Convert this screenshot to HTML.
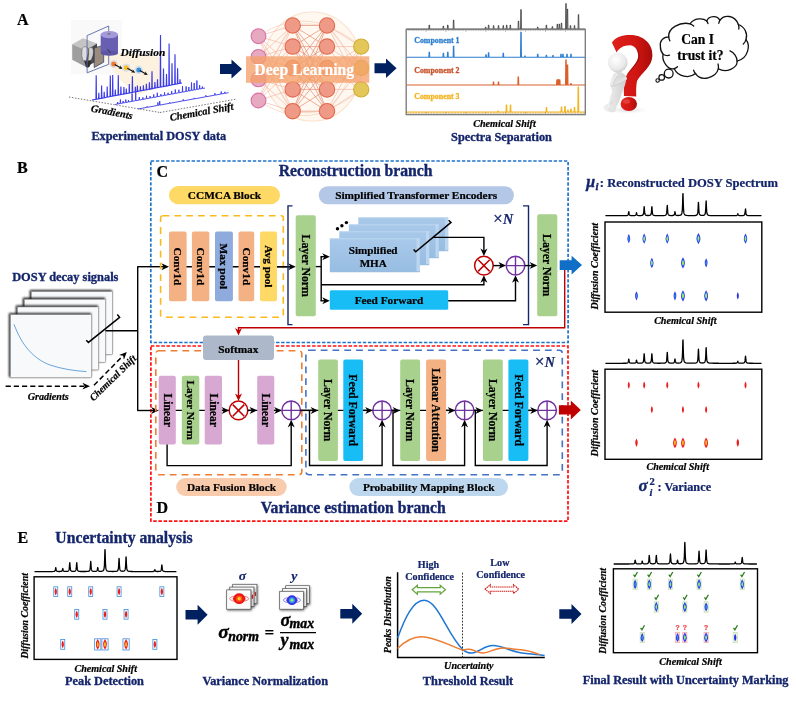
<!DOCTYPE html>
<html><head><meta charset="utf-8"><title>DOSY uncertainty framework</title>
<style>
html,body{margin:0;padding:0;background:#fff;}
body{width:796px;height:703px;overflow:hidden;}
svg{display:block;font-family:"Liberation Serif","DejaVu Serif",serif;}
</style></head><body>
<svg width="796" height="703" viewBox="0 0 796 703">
<rect width="796" height="703" fill="#fff"/>
<text x="17" y="25" font-size="16" fill="#000" font-weight="bold" font-style="normal" text-anchor="start" stroke="#000" stroke-width="0.22" >A</text>
<g>
<rect x="71.00" y="20.00" width="50.80" height="54.30" rx="0" fill="#f9f9f9" stroke="none" stroke-width="1" />
<polygon points="104,56 112,52 160.5,57 160.5,87 137,95 120,80" fill="#fdf2df"/>
<path d="M87.1,35.6 L108.7,26 L108.7,33" fill="none" stroke="#5a68a8" stroke-width="0.9"/>
<polygon points="72.2,44.2 83,38.2 97,43.5 86,50.2" fill="#c4c4c4"/>
<polygon points="72.2,44.2 86,50.2 86,67 72.2,59.7" fill="#9e9e9e"/>
<polygon points="86,50.2 97,43.5 97,61 86,67" fill="#4a4a4a"/>
<path d="M82,49.5 q1,-4 4.5,-2.5 q2,1.5 1.5,6 l-1.5,7 q-1.5,2 -3.5,0.5 q-2,-4 -1,-11z" fill="#dedede" stroke="#555" stroke-width="0.5"/>
<path d="M88.5,48.5 q2.5,-2.5 4.5,0 q1,3 0,7 l-2,5 q-2,1 -3,-1 q1,-5 0.5,-11z" fill="#cfcfcf" stroke="#444" stroke-width="0.5"/>
<path d="M84,60 q3,3 7,0 l-1,6 q-2,3 -4,1z" fill="#2a2a2a"/>
<polygon points="94.2,48 103.7,45.2 103.7,62.2 94.2,67.5" fill="#9b8b7c"/>
<polygon points="94.2,48 103.7,45.2 103.7,62.2 94.2,67.5" fill="none" stroke="#2a3560" stroke-width="0.7"/>
<path d="M87.1,35.6 L87.1,72.8 L108.7,64.3 L108.7,54.5" fill="none" stroke="#5a68a8" stroke-width="0.9"/>
<rect x="100.7" y="34.6" width="17.3" height="18.6" fill="#695fb2"/>
<ellipse cx="109.35" cy="53.2" rx="8.65" ry="2.6" fill="#5f55a6"/>
<ellipse cx="109.35" cy="34.6" rx="8.65" ry="3.6" fill="#a399db"/>
<ellipse cx="109" cy="33.8" rx="1.6" ry="0.9" fill="#777"/>
<path d="M107.5,49 l3,4" stroke="#333" stroke-width="0.9"/>
</g>
<polyline points="69.00,97.00 160.00,112.50" fill="none" stroke="#555" stroke-width="0.8" stroke-dasharray="1.5 1.5" />
<polyline points="160.00,112.50 235.50,99.30" fill="none" stroke="#555" stroke-width="0.8" stroke-dasharray="1.5 1.5" />
<path d="M92.00,100.00L95.95,99.21L96.20,75.31L96.45,99.21L98.55,98.72L98.80,92.72L99.05,98.72L101.35,98.19L101.60,85.39L101.85,98.19L103.95,97.70L104.20,91.70L104.45,97.70L106.95,97.13L107.20,86.43L107.45,97.13L110.05,96.54L110.30,75.54L110.55,96.54L112.45,96.09L112.70,75.09L112.95,96.09L115.05,95.60L115.30,89.60L115.55,95.60L118.05,95.03L118.30,75.33L118.55,95.03L120.65,94.54L120.90,86.54L121.15,94.54L123.65,93.97L123.90,86.97L124.15,93.97L126.05,93.52L126.30,88.52L126.55,93.52L129.05,92.95L129.30,83.95L129.55,92.95L132.15,92.37L132.40,76.37L132.65,92.37L135.15,91.80L135.40,86.80L135.65,91.80L137.15,91.42L137.40,85.42L137.65,91.42L140.15,90.86L140.40,86.36L140.65,90.86L143.15,90.29L143.40,85.29L143.65,90.29L146.15,89.72L146.40,83.72L146.65,89.72L149.15,89.16L149.40,82.16L149.65,89.16L151.75,88.67L152.00,71.27L152.25,88.67L154.65,88.12L154.90,82.12L155.15,88.12L157.25,87.63L157.50,79.33L157.75,87.63L160.25,87.06L160.50,35.06L160.75,87.06L163.25,86.49L163.50,68.49L163.75,86.49L166.25,85.93L166.50,73.93L166.75,85.93L168.85,85.44L169.10,43.44L169.35,85.44L171.75,84.89L172.00,63.29L172.25,84.89L174.75,84.32L175.00,54.32L175.25,84.32L177.35,83.83L177.60,68.33L177.85,83.83L179.75,83.38L180.00,79.38L180.25,83.38L182.00,83.00" fill="none" stroke="#3b3be8" stroke-width="1.15" stroke-linejoin="miter"/>
<path d="M115.00,104.50L117.45,104.00L117.70,102.00L117.95,104.00L120.15,103.51L120.40,99.51L120.65,103.51L122.85,103.02L123.10,101.02L123.35,103.02L125.55,102.52L125.80,99.52L126.05,102.52L128.25,102.03L128.50,100.03L128.75,102.03L131.85,101.36L132.10,93.36L132.35,101.36L135.45,100.70L135.70,91.70L135.95,100.70L139.05,100.05L139.30,97.05L139.55,100.05L142.65,99.39L142.90,97.39L143.15,99.39L146.25,98.72L146.50,95.72L146.75,98.72L149.85,98.06L150.10,96.06L150.35,98.06L153.45,97.41L153.70,94.41L153.95,97.41L157.05,96.75L157.30,92.75L157.55,96.75L160.65,96.08L160.90,94.08L161.15,96.08L164.25,95.42L164.50,92.42L164.75,95.42L167.85,94.77L168.10,92.77L168.35,94.77L171.45,94.11L171.70,91.11L171.95,94.11L175.05,93.44L175.30,89.44L175.55,93.44L178.65,92.78L178.90,89.78L179.15,92.78L182.25,92.12L182.50,86.12L182.75,92.12L185.85,91.47L186.10,86.47L186.35,91.47L188.55,90.97L188.80,86.97L189.05,90.97L191.25,90.47L191.50,82.47L191.75,90.47L193.95,89.98L194.20,82.98L194.45,89.98L196.65,89.48L196.90,80.48L197.15,89.48L199.35,88.99L199.60,84.99L199.85,88.99L202.05,88.50L202.30,86.50L202.55,88.50L205.00,88.00" fill="none" stroke="#3b3be8" stroke-width="0.9" stroke-linejoin="miter"/>
<path d="M138.00,109.00L146.80,107.37L147.05,106.37L147.30,107.37L157.66,105.41L157.91,102.41L158.16,105.41L159.47,105.09L159.72,101.09L159.97,105.09L169.43,103.30L169.68,102.30L169.93,103.30L183.00,100.85L183.25,99.35L183.50,100.85L193.86,98.89L194.11,97.89L194.36,98.89L205.62,96.78L205.88,95.28L206.12,96.78L214.68,95.15L214.93,93.15L215.18,95.15L221.01,94.00L221.26,91.50L221.51,94.00L224.63,93.35L224.88,91.85L225.13,93.35L228.50,92.70" fill="none" stroke="#3b3be8" stroke-width="0.9" stroke-linejoin="miter"/>
<circle cx="113.7" cy="63.9" r="3.7" fill="#e4e6f4" stroke="#c9cbe6" stroke-width="0.5"/>
<circle cx="113.7" cy="63.9" r="2.5" fill="#f07a28"/>
<polyline points="114.70,64.40 120.96,67.92" fill="none" stroke="#111" stroke-width="1.1" />
<polygon points="122.70,68.90 118.33,68.51 120.26,67.53 120.10,65.37" fill="#111"/>
<circle cx="126.3" cy="67.7" r="3.7" fill="#e4e6f4" stroke="#c9cbe6" stroke-width="0.5"/>
<circle cx="126.3" cy="67.7" r="2.5" fill="#f5c022"/>
<polyline points="127.30,68.20 133.56,71.72" fill="none" stroke="#111" stroke-width="1.1" />
<polygon points="135.30,72.70 130.93,72.31 132.86,71.33 132.70,69.17" fill="#111"/>
<circle cx="138.8" cy="69.9" r="3.7" fill="#e4e6f4" stroke="#c9cbe6" stroke-width="0.5"/>
<circle cx="138.8" cy="69.9" r="2.5" fill="#2f8fd8"/>
<polyline points="139.80,70.40 146.06,73.92" fill="none" stroke="#111" stroke-width="1.1" />
<polygon points="147.80,74.90 143.43,74.51 145.36,73.53 145.20,71.37" fill="#111"/>
<text x="120.5" y="55.8" font-size="11.4" fill="#000" font-weight="bold" font-style="italic" text-anchor="start" stroke="#000" stroke-width="0.22" >Diffusion</text>
<text x="90.5" y="111.5" font-size="10.4" fill="#000" font-weight="bold" font-style="italic" text-anchor="start" stroke="#000" stroke-width="0.22" transform="rotate(10.5 90.5 111.5)" >Gradients</text>
<text x="170.5" y="121" font-size="10.4" fill="#000" font-weight="bold" font-style="italic" text-anchor="start" stroke="#000" stroke-width="0.22" transform="rotate(-10.3 170.5 121)" >Chemical Shift</text>
<text x="158.8" y="139.8" font-size="12.3" fill="#14256b" font-weight="bold" font-style="normal" text-anchor="middle" stroke="#14256b" stroke-width="0.32" >Experimental DOSY data</text>
<polygon points="220.00,64.00 231.50,64.00 231.50,59.50 242.00,69.00 231.50,78.50 231.50,74.00 220.00,74.00" fill="#002060"/>
<ellipse cx="312.3" cy="66.5" rx="49.5" ry="54.5" fill="#fef8f1" stroke="#fbe3cf" stroke-width="1.2"/>
<g stroke-width="0.7" opacity="0.75">
<line x1="258.5" y1="36.2" x2="292.7" y2="25.5" stroke="#f0a58f"/>
<line x1="258.5" y1="36.2" x2="292.7" y2="46.6" stroke="#f0a58f"/>
<line x1="258.5" y1="36.2" x2="292.7" y2="68" stroke="#f0a58f"/>
<line x1="258.5" y1="36.2" x2="292.7" y2="89.4" stroke="#f0a58f"/>
<line x1="258.5" y1="36.2" x2="292.7" y2="111.2" stroke="#f0a58f"/>
<line x1="258.5" y1="56.9" x2="292.7" y2="25.5" stroke="#f0a58f"/>
<line x1="258.5" y1="56.9" x2="292.7" y2="46.6" stroke="#f0a58f"/>
<line x1="258.5" y1="56.9" x2="292.7" y2="68" stroke="#f0a58f"/>
<line x1="258.5" y1="56.9" x2="292.7" y2="89.4" stroke="#f0a58f"/>
<line x1="258.5" y1="56.9" x2="292.7" y2="111.2" stroke="#f0a58f"/>
<line x1="258.5" y1="79.4" x2="292.7" y2="25.5" stroke="#f0a58f"/>
<line x1="258.5" y1="79.4" x2="292.7" y2="46.6" stroke="#f0a58f"/>
<line x1="258.5" y1="79.4" x2="292.7" y2="68" stroke="#f0a58f"/>
<line x1="258.5" y1="79.4" x2="292.7" y2="89.4" stroke="#f0a58f"/>
<line x1="258.5" y1="79.4" x2="292.7" y2="111.2" stroke="#f0a58f"/>
<line x1="258.5" y1="100.5" x2="292.7" y2="25.5" stroke="#f0a58f"/>
<line x1="258.5" y1="100.5" x2="292.7" y2="46.6" stroke="#f0a58f"/>
<line x1="258.5" y1="100.5" x2="292.7" y2="68" stroke="#f0a58f"/>
<line x1="258.5" y1="100.5" x2="292.7" y2="89.4" stroke="#f0a58f"/>
<line x1="258.5" y1="100.5" x2="292.7" y2="111.2" stroke="#f0a58f"/>
<line x1="292.7" y1="25.5" x2="327" y2="25.5" stroke="#d96a4a"/>
<line x1="292.7" y1="25.5" x2="327" y2="46.6" stroke="#d96a4a"/>
<line x1="292.7" y1="25.5" x2="327" y2="68" stroke="#d96a4a"/>
<line x1="292.7" y1="25.5" x2="327" y2="89.4" stroke="#d96a4a"/>
<line x1="292.7" y1="25.5" x2="327" y2="111.2" stroke="#d96a4a"/>
<line x1="292.7" y1="46.6" x2="327" y2="25.5" stroke="#d96a4a"/>
<line x1="292.7" y1="46.6" x2="327" y2="46.6" stroke="#d96a4a"/>
<line x1="292.7" y1="46.6" x2="327" y2="68" stroke="#d96a4a"/>
<line x1="292.7" y1="46.6" x2="327" y2="89.4" stroke="#d96a4a"/>
<line x1="292.7" y1="46.6" x2="327" y2="111.2" stroke="#d96a4a"/>
<line x1="292.7" y1="68" x2="327" y2="25.5" stroke="#d96a4a"/>
<line x1="292.7" y1="68" x2="327" y2="46.6" stroke="#d96a4a"/>
<line x1="292.7" y1="68" x2="327" y2="68" stroke="#d96a4a"/>
<line x1="292.7" y1="68" x2="327" y2="89.4" stroke="#d96a4a"/>
<line x1="292.7" y1="68" x2="327" y2="111.2" stroke="#d96a4a"/>
<line x1="292.7" y1="89.4" x2="327" y2="25.5" stroke="#d96a4a"/>
<line x1="292.7" y1="89.4" x2="327" y2="46.6" stroke="#d96a4a"/>
<line x1="292.7" y1="89.4" x2="327" y2="68" stroke="#d96a4a"/>
<line x1="292.7" y1="89.4" x2="327" y2="89.4" stroke="#d96a4a"/>
<line x1="292.7" y1="89.4" x2="327" y2="111.2" stroke="#d96a4a"/>
<line x1="292.7" y1="111.2" x2="327" y2="25.5" stroke="#d96a4a"/>
<line x1="292.7" y1="111.2" x2="327" y2="46.6" stroke="#d96a4a"/>
<line x1="292.7" y1="111.2" x2="327" y2="68" stroke="#d96a4a"/>
<line x1="292.7" y1="111.2" x2="327" y2="89.4" stroke="#d96a4a"/>
<line x1="292.7" y1="111.2" x2="327" y2="111.2" stroke="#d96a4a"/>
<line x1="327" y1="25.5" x2="361.2" y2="46.6" stroke="#f0a58f"/>
<line x1="327" y1="25.5" x2="361.2" y2="68" stroke="#f0a58f"/>
<line x1="327" y1="25.5" x2="361.2" y2="89.4" stroke="#f0a58f"/>
<line x1="327" y1="46.6" x2="361.2" y2="46.6" stroke="#f0a58f"/>
<line x1="327" y1="46.6" x2="361.2" y2="68" stroke="#f0a58f"/>
<line x1="327" y1="46.6" x2="361.2" y2="89.4" stroke="#f0a58f"/>
<line x1="327" y1="68" x2="361.2" y2="46.6" stroke="#f0a58f"/>
<line x1="327" y1="68" x2="361.2" y2="68" stroke="#f0a58f"/>
<line x1="327" y1="68" x2="361.2" y2="89.4" stroke="#f0a58f"/>
<line x1="327" y1="89.4" x2="361.2" y2="46.6" stroke="#f0a58f"/>
<line x1="327" y1="89.4" x2="361.2" y2="68" stroke="#f0a58f"/>
<line x1="327" y1="89.4" x2="361.2" y2="89.4" stroke="#f0a58f"/>
<line x1="327" y1="111.2" x2="361.2" y2="46.6" stroke="#f0a58f"/>
<line x1="327" y1="111.2" x2="361.2" y2="68" stroke="#f0a58f"/>
<line x1="327" y1="111.2" x2="361.2" y2="89.4" stroke="#f0a58f"/>
</g>
<g fill="none" stroke="#f5c4a8" stroke-width="0.7" opacity="0.8">
<path d="M258.5,36.2Q292.75,12.850000000000001 327,25.5"/>
<path d="M258.5,100.5Q292.75,123.85 327,111.2"/>
<path d="M292.7,25.5Q326.95,18.049999999999997 361.2,46.6"/>
<path d="M292.7,111.2Q326.95,118.30000000000001 361.2,89.4"/>
<path d="M258.5,36.2Q275.6,91.7 292.7,111.2"/>
<path d="M258.5,100.5Q275.6,45.0 292.7,25.5"/>
<path d="M327,25.5Q344.1,39.45 361.2,89.4"/>
<path d="M327,111.2Q344.1,96.9 361.2,46.6"/>
</g>
<circle cx="258.5" cy="36.2" r="7.4" fill="#e6a9c0" stroke="#d872a8" stroke-width="1.1"/>
<circle cx="258.5" cy="56.9" r="7.4" fill="#e6a9c0" stroke="#d872a8" stroke-width="1.1"/>
<circle cx="258.5" cy="79.4" r="7.4" fill="#e6a9c0" stroke="#d872a8" stroke-width="1.1"/>
<circle cx="258.5" cy="100.5" r="7.4" fill="#e6a9c0" stroke="#d872a8" stroke-width="1.1"/>
<circle cx="292.7" cy="25.5" r="7.7" fill="#ee9a86" stroke="#e2694f" stroke-width="1.1"/>
<circle cx="292.7" cy="46.6" r="7.7" fill="#ee9a86" stroke="#e2694f" stroke-width="1.1"/>
<circle cx="292.7" cy="68" r="7.7" fill="#ee9a86" stroke="#e2694f" stroke-width="1.1"/>
<circle cx="292.7" cy="89.4" r="7.7" fill="#ee9a86" stroke="#e2694f" stroke-width="1.1"/>
<circle cx="292.7" cy="111.2" r="7.7" fill="#ee9a86" stroke="#e2694f" stroke-width="1.1"/>
<circle cx="327" cy="25.5" r="7.7" fill="#ee9a86" stroke="#e2694f" stroke-width="1.1"/>
<circle cx="327" cy="46.6" r="7.7" fill="#ee9a86" stroke="#e2694f" stroke-width="1.1"/>
<circle cx="327" cy="68" r="7.7" fill="#ee9a86" stroke="#e2694f" stroke-width="1.1"/>
<circle cx="327" cy="89.4" r="7.7" fill="#ee9a86" stroke="#e2694f" stroke-width="1.1"/>
<circle cx="327" cy="111.2" r="7.7" fill="#ee9a86" stroke="#e2694f" stroke-width="1.1"/>
<circle cx="361.2" cy="46.6" r="7.6" fill="#e3c75a" stroke="#d3ad33" stroke-width="1.1"/>
<circle cx="361.2" cy="68" r="7.6" fill="#e3c75a" stroke="#d3ad33" stroke-width="1.1"/>
<circle cx="361.2" cy="89.4" r="7.6" fill="#e3c75a" stroke="#d3ad33" stroke-width="1.1"/>
<rect x="246.00" y="56.30" width="123.30" height="26.50" rx="0" fill="#f4a06a" stroke="none" stroke-width="1" opacity="0.78"/>
<text x="304.2" y="74.8" font-size="15.7" fill="#fff" font-weight="bold" font-style="normal" text-anchor="middle" stroke="#fff" stroke-width="0.22" >Deep Learning</text>
<polygon points="374.50,63.30 386.00,63.30 386.00,58.60 396.60,68.30 386.00,78.00 386.00,73.30 374.50,73.30" fill="#002060"/>
<path d="M406.2,29L428.85,29L429.10,25.00L429.50,25.00L429.75,29L442.95,29L443.20,26.00L443.60,26.00L443.85,29L447.35,29L447.60,25.00L448.00,25.00L448.25,29L453.15,29L453.40,20.00L453.80,20.00L454.05,29L485.15,29L485.40,27.00L485.80,27.00L486.05,29L488.15,29L488.40,25.00L488.80,25.00L489.05,29L493.15,29L493.40,25.50L493.80,25.50L494.05,29L498.05,29L498.30,25.50L498.70,25.50L498.95,29L502.85,29L503.10,25.50L503.50,25.50L503.75,29L506.25,29L506.50,25.00L506.90,25.00L507.15,29L509.85,29L510.10,25.00L510.50,25.00L510.75,29L518.05,29L518.30,21.00L518.70,21.00L518.95,29L520.55,29L520.80,9.50L521.20,9.50L521.45,29L537.25,29L537.50,27.00L537.90,27.00L538.15,29L545.95,29L546.20,25.00L546.60,25.00L546.85,29L551.95,29L552.20,26.50L552.60,26.50L552.85,29L556.95,29L557.20,24.00L557.60,24.00L557.85,29L558.95,29L559.20,24.00L559.60,24.00L559.85,29L561.05,29L561.30,23.00L561.70,23.00L561.95,29L565.55,29L565.80,3.50L566.20,3.50L566.45,29L567.05,29L567.30,9.00L567.70,9.00L567.95,29L570.05,29L570.30,25.50L570.70,25.50L570.95,29L574.05,29L574.30,25.50L574.70,25.50L574.95,29L578.05,29L578.30,14.50L578.70,14.50L578.95,29L585.3,29" fill="none" stroke="#333" stroke-width="0.8"/>
<path d="M406.2,57.3L428.85,57.3L429.10,52.30L429.50,52.30L429.75,57.3L442.95,57.3L443.20,53.30L443.60,53.30L443.85,57.3L447.35,57.3L447.60,52.30L448.00,52.30L448.25,57.3L453.15,57.3L453.40,46.30L453.80,46.30L454.05,57.3L485.55,57.3L485.80,54.80L486.20,54.80L486.45,57.3L488.15,57.3L488.40,52.80L488.80,52.80L489.05,57.3L502.85,57.3L503.10,53.30L503.50,53.30L503.75,57.3L520.55,57.3L520.80,32.30L521.20,32.30L521.45,57.3L524.55,57.3L524.80,56.10L525.20,56.10L525.45,57.3L537.25,57.3L537.50,54.30L537.90,54.30L538.15,57.3L545.95,57.3L546.20,55.30L546.60,55.30L546.85,57.3L552.55,57.3L552.80,55.50L553.20,55.50L553.45,57.3L560.55,57.3L560.80,54.30L561.20,54.30L561.45,57.3L562.55,57.3L562.80,54.30L563.20,54.30L563.45,57.3L566.55,57.3L566.80,54.30L567.20,54.30L567.45,57.3L570.55,57.3L570.80,54.30L571.20,54.30L571.45,57.3L585.3,57.3" fill="none" stroke="#2e7fd0" stroke-width="1.1"/>
<path d="M406.2,85L493.05,85L493.30,82.00L493.70,82.00L493.95,85L498.05,85L498.30,82.00L498.70,82.00L498.95,85L517.85,85L518.10,77.00L518.50,77.00L518.75,85L556.55,85L556.80,80.00L557.20,80.00L557.45,85L558.05,85L558.30,79.50L558.70,79.50L558.95,85L559.25,85L559.50,80.00L559.90,80.00L560.15,85L565.55,85L565.80,60.00L566.20,60.00L566.45,85L567.05,85L567.30,65.00L567.70,65.00L567.95,85L570.55,85L570.80,83.50L571.20,83.50L571.45,85L585.3,85" fill="none" stroke="#d95f2b" stroke-width="1.1"/>
<path d="M406.2,112L497.55,112L497.80,111.00L498.20,111.00L498.45,112L506.05,112L506.30,105.00L506.70,105.00L506.95,112L510.05,112L510.30,105.00L510.70,105.00L510.95,112L546.05,112L546.30,107.50L546.70,107.50L546.95,112L561.05,112L561.30,107.00L561.70,107.00L561.95,112L564.55,112L564.80,106.50L565.20,106.50L565.45,112L567.55,112L567.80,110.00L568.20,110.00L568.45,112L570.55,112L570.80,109.00L571.20,109.00L571.45,112L574.05,112L574.30,107.50L574.70,107.50L574.95,112L577.85,112L578.10,87.00L578.50,87.00L578.75,112L585.3,112" fill="none" stroke="#f2b41f" stroke-width="1.1"/>
<line x1="406.2" y1="112.8" x2="585.3" y2="112.8" stroke="#f2b41f" stroke-width="0.8" stroke-dasharray="2 1"/>
<rect x="406.20" y="29.50" width="179.10" height="85.10" rx="0" fill="none" stroke="#7f7f7f" stroke-width="1.4" />
<path d="M408.69,29.5v1.2M408.69,114.6v-1.2M411.18,29.5v1.2M411.18,114.6v-1.2M413.66,29.5v1.2M413.66,114.6v-1.2M416.15,29.5v1.2M416.15,114.6v-1.2M418.64,29.5v1.2M418.64,114.6v-1.2M421.12,29.5v1.2M421.12,114.6v-1.2M423.61,29.5v1.2M423.61,114.6v-1.2M426.10,29.5v2.6M426.10,114.6v-2.6M428.59,29.5v1.2M428.59,114.6v-1.2M431.07,29.5v1.2M431.07,114.6v-1.2M433.56,29.5v1.2M433.56,114.6v-1.2M436.05,29.5v1.2M436.05,114.6v-1.2M438.54,29.5v1.2M438.54,114.6v-1.2M441.02,29.5v1.2M441.02,114.6v-1.2M443.51,29.5v1.2M443.51,114.6v-1.2M446.00,29.5v2.6M446.00,114.6v-2.6M448.49,29.5v1.2M448.49,114.6v-1.2M450.97,29.5v1.2M450.97,114.6v-1.2M453.46,29.5v1.2M453.46,114.6v-1.2M455.95,29.5v1.2M455.95,114.6v-1.2M458.44,29.5v1.2M458.44,114.6v-1.2M460.92,29.5v1.2M460.92,114.6v-1.2M463.41,29.5v1.2M463.41,114.6v-1.2M465.90,29.5v2.6M465.90,114.6v-2.6M468.39,29.5v1.2M468.39,114.6v-1.2M470.88,29.5v1.2M470.88,114.6v-1.2M473.36,29.5v1.2M473.36,114.6v-1.2M475.85,29.5v1.2M475.85,114.6v-1.2M478.34,29.5v1.2M478.34,114.6v-1.2M480.82,29.5v1.2M480.82,114.6v-1.2M483.31,29.5v1.2M483.31,114.6v-1.2M485.80,29.5v2.6M485.80,114.6v-2.6M488.29,29.5v1.2M488.29,114.6v-1.2M490.77,29.5v1.2M490.77,114.6v-1.2M493.26,29.5v1.2M493.26,114.6v-1.2M495.75,29.5v1.2M495.75,114.6v-1.2M498.24,29.5v1.2M498.24,114.6v-1.2M500.72,29.5v1.2M500.72,114.6v-1.2M503.21,29.5v1.2M503.21,114.6v-1.2M505.70,29.5v2.6M505.70,114.6v-2.6M508.19,29.5v1.2M508.19,114.6v-1.2M510.67,29.5v1.2M510.67,114.6v-1.2M513.16,29.5v1.2M513.16,114.6v-1.2M515.65,29.5v1.2M515.65,114.6v-1.2M518.14,29.5v1.2M518.14,114.6v-1.2M520.62,29.5v1.2M520.62,114.6v-1.2M523.11,29.5v1.2M523.11,114.6v-1.2M525.60,29.5v2.6M525.60,114.6v-2.6M528.09,29.5v1.2M528.09,114.6v-1.2M530.57,29.5v1.2M530.57,114.6v-1.2M533.06,29.5v1.2M533.06,114.6v-1.2M535.55,29.5v1.2M535.55,114.6v-1.2M538.04,29.5v1.2M538.04,114.6v-1.2M540.52,29.5v1.2M540.52,114.6v-1.2M543.01,29.5v1.2M543.01,114.6v-1.2M545.50,29.5v2.6M545.50,114.6v-2.6M547.99,29.5v1.2M547.99,114.6v-1.2M550.47,29.5v1.2M550.47,114.6v-1.2M552.96,29.5v1.2M552.96,114.6v-1.2M555.45,29.5v1.2M555.45,114.6v-1.2M557.94,29.5v1.2M557.94,114.6v-1.2M560.42,29.5v1.2M560.42,114.6v-1.2M562.91,29.5v1.2M562.91,114.6v-1.2M565.40,29.5v2.6M565.40,114.6v-2.6M567.89,29.5v1.2M567.89,114.6v-1.2M570.38,29.5v1.2M570.38,114.6v-1.2M572.86,29.5v1.2M572.86,114.6v-1.2M575.35,29.5v1.2M575.35,114.6v-1.2M577.84,29.5v1.2M577.84,114.6v-1.2M580.32,29.5v1.2M580.32,114.6v-1.2M582.81,29.5v1.2M582.81,114.6v-1.2" stroke="#7f7f7f" stroke-width="0.5"/>
<text x="414.2" y="43.2" font-size="7.9" fill="#2e7fd0" font-weight="bold" font-style="normal" text-anchor="start" stroke="#2e7fd0" stroke-width="0.3" >Component 1</text>
<text x="414.2" y="73.4" font-size="7.9" fill="#c8532d" font-weight="bold" font-style="normal" text-anchor="start" stroke="#c8532d" stroke-width="0.3" >Component 2</text>
<text x="414.2" y="98.9" font-size="7.9" fill="#f2b41f" font-weight="bold" font-style="normal" text-anchor="start" stroke="#f2b41f" stroke-width="0.3" >Component 3</text>
<text x="504.5" y="126.9" font-size="10.1" fill="#000" font-weight="bold" font-style="italic" text-anchor="middle" stroke="#000" stroke-width="0.22" >Chemical Shift</text>
<text x="501.5" y="140.8" font-size="12.3" fill="#14256b" font-weight="bold" font-style="normal" text-anchor="middle" stroke="#14256b" stroke-width="0.32" >Spectra Separation</text>
<defs>
<linearGradient id="qg" x1="0" y1="0" x2="1" y2="0"><stop offset="0" stop-color="#e0201c"/><stop offset="0.6" stop-color="#d01512"/><stop offset="1" stop-color="#a80d0b"/></linearGradient>
<radialGradient id="hg" cx="0.4" cy="0.35" r="0.7"><stop offset="0" stop-color="#ffffff"/><stop offset="0.7" stop-color="#e9e9e9"/><stop offset="1" stop-color="#c9c9c9"/></radialGradient>
<linearGradient id="bg" x1="0" y1="0" x2="1" y2="0"><stop offset="0" stop-color="#f4f4f4"/><stop offset="1" stop-color="#cfcfcf"/></linearGradient>
<radialGradient id="sh" cx="0.5" cy="0.5" r="0.5"><stop offset="0" stop-color="#bbb" stop-opacity="0.6"/><stop offset="1" stop-color="#fff" stop-opacity="0"/></radialGradient>
</defs>
<ellipse cx="628" cy="110" rx="24" ry="4.5" fill="url(#sh)"/>
<path d="M611.9,42.6 C616,36 624,34.5 632,35 C645,36 653,45 652.4,56 C652,67 642,72 637,81 C636,86 636,92 636.3,96.6 L624,96 C623.5,88 624,81 626.5,75.5 C630,68 638,64 638.2,56.5 C638.3,50 635,45.5 630,45.3 C624,45.2 619,48 616.6,52.5 Z" fill="url(#qg)"/>
<path d="M630,45.3 C636,46 640,51 639.5,57 C639,64 631,68.5 628,76 C631,67 637.5,63.5 638.2,56.5 C638.3,50 635,45.5 630,45.3Z" fill="#8e0c0a" opacity="0.7"/>
<ellipse cx="628.8" cy="104" rx="8.2" ry="7" fill="url(#qg)"/>
<ellipse cx="626.5" cy="101.5" rx="3.5" ry="2.2" fill="#f05a50" opacity="0.55"/>
<path d="M618,71.5 C622,72 626.5,74.5 626.3,78.5 C626,84 623.5,89 622,93 C620.5,98 618.5,103 616.5,107 C616,110 613.5,112 610.5,111.5 C607.5,112 604,111 603.8,108.8 C603.6,106.5 606,104.8 608.5,103.5 C609.5,99.5 611,95 612.3,91 C611.2,88.5 610.6,86 610.6,83.5 C610.6,79 613.5,73 618,71.5Z" fill="url(#bg)"/>
<path d="M625.3,78.5 C621,81.5 616,83.8 611.6,84.6" fill="none" stroke="#e2e2e2" stroke-width="3.4" stroke-linecap="round"/>
<path d="M625.5,80.3 C621,83.5 616,85.6 611.6,86.4" fill="none" stroke="#bfbfbf" stroke-width="0.6" stroke-linecap="round"/>
<path d="M611.8,83.5 C612.5,80 614,77.5 616,75.2" fill="none" stroke="#ececec" stroke-width="3.2" stroke-linecap="round"/>
<path d="M613.5,84 C614.3,80.5 615.8,78 617.6,76.3" fill="none" stroke="#bdbdbd" stroke-width="0.6" stroke-linecap="round"/>
<ellipse cx="616" cy="74.8" rx="2" ry="1.7" fill="#efefef" stroke="#c9c9c9" stroke-width="0.4"/>
<path d="M612.5,101 C611,104.5 608.5,107 609,109.5" fill="none" stroke="#c8c8c8" stroke-width="0.6"/>
<ellipse cx="607.2" cy="106.6" rx="3.6" ry="2.3" fill="#ededed" transform="rotate(-25 607.2 106.6)"/>
<ellipse cx="612.6" cy="110" rx="3.8" ry="2.2" fill="#e4e4e4" transform="rotate(-12 612.6 110)"/>
<circle cx="617.7" cy="62.6" r="9.9" fill="url(#hg)"/>
<path d="M660.4,46.6 C659.5,41 663,37 668.7,36.9 C668,28 680,21.5 690.1,23.8 C694,18 703,17.5 706.7,21 C709,15.5 717.5,15 719.8,20.4 C724,14 735,15 738.4,24.5 C744.5,26.5 748,33.5 746,39.7 C750.5,45 748.5,58.5 737.1,61.1 C737.5,68 726,73.5 718.4,68.7 C716,78 701,82 695.6,73.6 C689,79 678,76.5 674.2,68.7 C668,70.5 661.5,61 663.1,54.2 C661.5,52.5 660.3,49.5 660.4,46.6Z" fill="#fff" stroke="#111" stroke-width="1.3"/>
<path d="M663.1,54.2 C665,55.5 667.5,55.8 669.5,55.2 M737.1,61.1 C737.2,57 734,52.5 730,50.8 M746,39.7 C745.5,41.5 744.5,43 743.3,44 M738.4,24.5 C738.9,26 739,27.5 738.8,29 M719.8,20.4 C719.3,21.3 718.9,22.3 718.8,23.3 M706.7,21 C707.3,21.8 707.7,22.7 708,23.6 M690.1,23.8 C691.5,24.2 692.7,25 693.7,26 M668.7,36.9 C668.8,38.3 669.2,39.6 669.9,40.8 M718.4,68.7 C718.7,67 718.5,65.5 718,64 M695.6,73.6 C694.6,72.6 694,71.5 693.6,70.2 M674.2,68.7 C675.5,68.3 676.6,67.6 677.5,66.8" fill="none" stroke="#111" stroke-width="1.3" stroke-linecap="round"/>
<circle cx="668.7" cy="73.6" r="4.4" fill="#fff" stroke="#111" stroke-width="1.3"/>
<circle cx="661.7" cy="77.4" r="2.8" fill="#fff" stroke="#111" stroke-width="1.2"/>
<circle cx="657.6" cy="80.5" r="1.7" fill="#fff" stroke="#111" stroke-width="1.1"/>
<text x="697.7" y="43.9" font-size="13.6" fill="#000" font-weight="bold" font-style="normal" text-anchor="middle" stroke="#000" stroke-width="0.22" >Can I</text>
<text x="700.4" y="59.8" font-size="13.6" fill="#000" font-weight="bold" font-style="normal" text-anchor="middle" stroke="#000" stroke-width="0.22" >trust it?</text>
<text x="17" y="172.5" font-size="16" fill="#000" font-weight="bold" font-style="normal" text-anchor="start" stroke="#000" stroke-width="0.22" >B</text>
<rect x="150.80" y="161.00" width="417.30" height="181.50" rx="0" fill="none" stroke="#1f74c9" stroke-width="1.7" stroke-dasharray="3.4 1.7" />
<rect x="150.90" y="346.00" width="417.10" height="175.20" rx="0" fill="none" stroke="#ff1010" stroke-width="1.7" stroke-dasharray="3.5 1.7" />
<text x="156.5" y="177" font-size="16" fill="#000" font-weight="bold" font-style="normal" text-anchor="start" stroke="#000" stroke-width="0.22" >C</text>
<text x="156.5" y="512.5" font-size="16" fill="#000" font-weight="bold" font-style="normal" text-anchor="start" stroke="#000" stroke-width="0.22" >D</text>
<text x="355.6" y="176.2" font-size="15.7" fill="#14256b" font-weight="bold" font-style="normal" text-anchor="middle" stroke="#14256b" stroke-width="0.35" >Reconstruction branch</text>
<text x="353.2" y="512.8" font-size="15.7" fill="#14256b" font-weight="bold" font-style="normal" text-anchor="middle" stroke="#14256b" stroke-width="0.35" >Variance estimation branch</text>
<text x="65.3" y="280.7" font-size="12.4" fill="#14256b" font-weight="bold" font-style="normal" text-anchor="middle" stroke="#14256b" stroke-width="0.32" >DOSY decay signals</text>
<defs><filter id="cs" x="-10%" y="-10%" width="120%" height="120%"><feGaussianBlur stdDeviation="1.1"/></filter></defs>
<rect x="29.75" y="290.00" width="82.20" height="64.10" fill="#111" opacity="0.9" filter="url(#cs)"/>
<rect x="31.35" y="291.60" width="81.00" height="62.90" rx="0" fill="#f7f9fb" stroke="#9a9a9a" stroke-width="0.6" />
<rect x="22.80" y="297.70" width="82.20" height="64.10" fill="#111" opacity="0.9" filter="url(#cs)"/>
<rect x="24.40" y="299.30" width="81.00" height="62.90" rx="0" fill="#f7f9fb" stroke="#9a9a9a" stroke-width="0.6" />
<rect x="15.85" y="305.40" width="82.20" height="64.10" fill="#111" opacity="0.9" filter="url(#cs)"/>
<rect x="17.45" y="307.00" width="81.00" height="62.90" rx="0" fill="#f7f9fb" stroke="#9a9a9a" stroke-width="0.6" />
<rect x="8.90" y="313.10" width="82.20" height="64.10" fill="#111" opacity="0.9" filter="url(#cs)"/>
<rect x="10.50" y="314.70" width="81.00" height="62.90" rx="0" fill="#f7f9fb" stroke="#9a9a9a" stroke-width="0.6" />
<path d="M14,324.3 C22,346 34,359 50,365 C62,369 74,370.8 86.4,371.6" fill="none" stroke="#5b9bd5" stroke-width="0.9"/>
<polyline points="117.30,314.60 119.60,317.30 88.40,342.40 86.20,340.30" fill="none" stroke="#000" stroke-width="1.5" />
<polyline points="105.50,330.80 137.70,330.80" fill="none" stroke="#000" stroke-width="1.4" />
<polyline points="137.70,266.70 137.70,410.50" fill="none" stroke="#000" stroke-width="1.4" />
<polyline points="137.20,266.70 165.20,266.70" fill="none" stroke="#000" stroke-width="1.4" />
<polygon points="169.00,266.70 161.40,270.20 163.68,266.70 161.40,263.20" fill="#000"/>
<polyline points="137.20,410.50 154.90,410.50" fill="none" stroke="#000" stroke-width="1.4" />
<polygon points="158.70,410.50 151.10,414.00 153.38,410.50 151.10,407.00" fill="#000"/>
<polyline points="5.60,386.20 84.00,386.20" fill="none" stroke="#000" stroke-width="1.5" stroke-dasharray="5.2 3" />
<polygon points="90.00,386.20 82.40,389.60 84.68,386.20 82.40,382.80" fill="#000"/>
<polyline points="94.00,385.20 122.00,356.80" fill="none" stroke="#000" stroke-width="1.5" stroke-dasharray="5.2 3" />
<polygon points="126.80,351.90 123.91,359.71 123.08,355.70 119.05,354.95" fill="#000"/>
<text x="48.2" y="400" font-size="10.1" fill="#000" font-weight="bold" font-style="italic" text-anchor="middle" stroke="#000" stroke-width="0.22" >Gradients</text>
<text x="93.4" y="401.6" font-size="9.8" fill="#000" font-weight="bold" font-style="italic" text-anchor="start" stroke="#000" stroke-width="0.22" transform="rotate(-44.3 93.4 401.6)" >Chemical Shift</text>
<rect x="169.00" y="186.00" width="111.00" height="18.30" rx="9.15" fill="#ffd966" stroke="none" stroke-width="1" />
<text x="224.4" y="199.2" font-size="11.3" fill="#000" font-weight="bold" font-style="normal" text-anchor="middle" stroke="#000" stroke-width="0.22" >CCMCA Block</text>
<rect x="160.60" y="215.80" width="122.70" height="101.50" rx="2" fill="none" stroke="#fbb91c" stroke-width="1.6" stroke-dasharray="6.8 5" />
<polyline points="169.00,266.70 290.00,266.70" fill="none" stroke="#000" stroke-width="1.4" />
<rect x="169.00" y="231.40" width="17.60" height="69.90" rx="2" fill="#f4b183" stroke="none" stroke-width="1" />
<text x="177.80" y="266.35" font-size="11.3" font-weight="bold" stroke="#000" stroke-width="0.22" text-anchor="middle" transform="rotate(90 177.80 266.35)" dy="3.62">Conv1d</text>
<rect x="191.90" y="231.40" width="17.40" height="69.90" rx="2" fill="#f4b183" stroke="none" stroke-width="1" />
<text x="200.60" y="266.35" font-size="11.3" font-weight="bold" stroke="#000" stroke-width="0.22" text-anchor="middle" transform="rotate(90 200.60 266.35)" dy="3.62">Conv1d</text>
<rect x="215.00" y="231.40" width="17.90" height="69.90" rx="2" fill="#8faadc" stroke="none" stroke-width="1" />
<text x="223.95" y="266.35" font-size="11.3" font-weight="bold" stroke="#000" stroke-width="0.22" text-anchor="middle" transform="rotate(90 223.95 266.35)" dy="3.62">Max pool</text>
<rect x="238.50" y="231.40" width="15.70" height="69.90" rx="2" fill="#f4b183" stroke="none" stroke-width="1" />
<text x="246.35" y="266.35" font-size="11.3" font-weight="bold" stroke="#000" stroke-width="0.22" text-anchor="middle" transform="rotate(90 246.35 266.35)" dy="3.62">Conv1d</text>
<rect x="260.00" y="231.40" width="17.00" height="69.90" rx="2" fill="#ffd966" stroke="none" stroke-width="1" />
<text x="268.50" y="266.35" font-size="11.3" font-weight="bold" stroke="#000" stroke-width="0.22" text-anchor="middle" transform="rotate(90 268.50 266.35)" dy="3.62">Avg pool</text>
<polyline points="277.00,266.70 292.00,266.70" fill="none" stroke="#000" stroke-width="1.4" />
<polygon points="295.80,266.70 288.20,270.20 290.48,266.70 288.20,263.20" fill="#000"/>
<polyline points="292.50,205.90 288.00,205.90 288.00,324.60 292.50,324.60" fill="none" stroke="#14256b" stroke-width="1.4" />
<polyline points="523.00,205.90 528.50,205.90 528.50,324.60 523.00,324.60" fill="none" stroke="#14256b" stroke-width="1.4" />
<rect x="295.70" y="215.30" width="20.10" height="100.90" rx="2" fill="#a9d18e" stroke="none" stroke-width="1" />
<text x="305.75" y="265.75" font-size="11.8" font-weight="bold" stroke="#000" stroke-width="0.22" text-anchor="middle" transform="rotate(90 305.75 265.75)" dy="3.78">Layer Norm</text>
<rect x="537.20" y="214.30" width="20.10" height="101.90" rx="2" fill="#a9d18e" stroke="none" stroke-width="1" />
<text x="547.25" y="265.25" font-size="11.8" font-weight="bold" stroke="#000" stroke-width="0.22" text-anchor="middle" transform="rotate(90 547.25 265.25)" dy="3.78">Layer Norm</text>
<rect x="318.80" y="186.20" width="195.10" height="18.10" rx="9.05" fill="#b4c7e7" stroke="none" stroke-width="1" />
<text x="416.1" y="199.2" font-size="11.3" fill="#000" font-weight="bold" font-style="normal" text-anchor="middle" stroke="#000" stroke-width="0.22" >Simplified Transformer Encoders</text>
<text x="493.2" y="224.2" font-size="16.5" fill="#14256b" font-weight="normal" font-style="normal" text-anchor="start" stroke="#14256b" stroke-width="0.4" >×</text>
<text x="503" y="224.2" font-size="14" fill="#14256b" font-weight="bold" font-style="italic" text-anchor="start" stroke="#14256b" stroke-width="0.22" >N</text>
<defs><linearGradient id="mh" x1="0" y1="0" x2="0" y2="1"><stop offset="0" stop-color="#a9c9ea"/><stop offset="1" stop-color="#97bde2"/></linearGradient></defs>
<rect x="358.30" y="217.40" width="89.90" height="33.40" rx="0" fill="url(#mh)" stroke="none" stroke-width="1" />
<rect x="445.00" y="217.40" width="3.20" height="33.40" rx="0" fill="#bcd6ef" stroke="none" stroke-width="1" />
<line x1="358.3" y1="217.80" x2="448.2" y2="217.80" stroke="#c3daf1" stroke-width="0.8"/>
<line x1="358.3" y1="250.80" x2="448.2" y2="250.80" stroke="#86aed6" stroke-width="0.7"/>
<rect x="348.80" y="224.40" width="89.90" height="33.40" rx="0" fill="url(#mh)" stroke="none" stroke-width="1" />
<rect x="435.50" y="224.40" width="3.20" height="33.40" rx="0" fill="#bcd6ef" stroke="none" stroke-width="1" />
<line x1="348.8" y1="224.80" x2="438.7" y2="224.80" stroke="#c3daf1" stroke-width="0.8"/>
<line x1="348.8" y1="257.80" x2="438.7" y2="257.80" stroke="#86aed6" stroke-width="0.7"/>
<rect x="339.30" y="231.40" width="89.90" height="33.40" rx="0" fill="url(#mh)" stroke="none" stroke-width="1" />
<rect x="426.00" y="231.40" width="3.20" height="33.40" rx="0" fill="#bcd6ef" stroke="none" stroke-width="1" />
<line x1="339.3" y1="231.80" x2="429.2" y2="231.80" stroke="#c3daf1" stroke-width="0.8"/>
<line x1="339.3" y1="264.80" x2="429.2" y2="264.80" stroke="#86aed6" stroke-width="0.7"/>
<rect x="329.80" y="238.40" width="89.90" height="33.40" rx="0" fill="url(#mh)" stroke="none" stroke-width="1" />
<rect x="416.50" y="238.40" width="3.20" height="33.40" rx="0" fill="#bcd6ef" stroke="none" stroke-width="1" />
<line x1="329.8" y1="238.80" x2="419.7" y2="238.80" stroke="#c3daf1" stroke-width="0.8"/>
<line x1="329.8" y1="271.80" x2="419.7" y2="271.80" stroke="#86aed6" stroke-width="0.7"/>
<circle cx="337.5" cy="228.8" r="1.7" fill="#000"/>
<circle cx="341.9" cy="225.7" r="1.7" fill="#000"/>
<circle cx="346.4" cy="222.6" r="1.7" fill="#000"/>
<text x="373.2" y="253.7" font-size="11.1" fill="#000" font-weight="bold" font-style="normal" text-anchor="middle" stroke="#000" stroke-width="0.22" >Simplified</text>
<text x="373.2" y="267.3" font-size="11.1" fill="#000" font-weight="bold" font-style="normal" text-anchor="middle" stroke="#000" stroke-width="0.22" >MHA</text>
<polyline points="315.80,266.60 321.20,266.60" fill="none" stroke="#000" stroke-width="1.4" />
<polyline points="321.20,256.70 321.20,300.80" fill="none" stroke="#000" stroke-width="1.4" />
<polyline points="320.50,256.70 326.00,256.70" fill="none" stroke="#000" stroke-width="1.4" />
<polygon points="329.80,256.70 322.20,260.20 324.48,256.70 322.20,253.20" fill="#000"/>
<polyline points="320.50,300.80 326.00,300.80" fill="none" stroke="#000" stroke-width="1.4" />
<polygon points="329.80,300.80 322.20,304.30 324.48,300.80 322.20,297.30" fill="#000"/>
<polyline points="321.20,284.70 483.90,284.70 483.90,279.00" fill="none" stroke="#000" stroke-width="1.4" />
<polygon points="483.90,275.20 487.40,282.80 483.90,280.52 480.40,282.80" fill="#000"/>
<rect x="329.80" y="290.30" width="118.40" height="19.50" rx="1.5" fill="#19bdf6" stroke="none" stroke-width="1" />
<text x="389" y="304.4" font-size="11.3" fill="#000" font-weight="bold" font-style="normal" text-anchor="middle" stroke="#000" stroke-width="0.22" >Feed Forward</text>
<polyline points="448.20,300.80 515.50,300.80 515.50,279.00" fill="none" stroke="#000" stroke-width="1.4" />
<polygon points="515.50,275.20 519.00,282.80 515.50,280.52 512.00,282.80" fill="#000"/>
<polyline points="448.60,220.20 451.00,222.40 415.70,251.80 413.60,249.60" fill="none" stroke="#000" stroke-width="1.5" />
<polyline points="433.50,237.40 483.90,237.40 483.90,252.20" fill="none" stroke="#000" stroke-width="1.4" />
<polygon points="483.90,256.00 480.40,248.40 483.90,250.68 487.40,248.40" fill="#000"/>
<circle cx="483.9" cy="265.6" r="9.3" fill="#fff" stroke="#c00000" stroke-width="1.5"/>
<path d="M478.13,259.83L489.67,271.37M489.67,259.83L478.13,271.37" stroke="#c00000" stroke-width="1.5" fill="none"/>
<circle cx="515.5" cy="265.6" r="9.3" fill="#fff" stroke="#7030a0" stroke-width="1.5"/>
<path d="M506.2,265.6L524.8,265.6M515.5,256.3L515.5,274.90000000000003" stroke="#7030a0" stroke-width="1.4" fill="none"/>
<polyline points="493.20,265.60 502.20,265.60" fill="none" stroke="#000" stroke-width="1.4" />
<polygon points="506.00,265.60 498.40,269.10 500.68,265.60 498.40,262.10" fill="#000"/>
<polyline points="524.80,265.60 533.40,265.60" fill="none" stroke="#000" stroke-width="1.4" />
<polygon points="537.20,265.60 529.60,269.10 531.88,265.60 529.60,262.10" fill="#000"/>
<polyline points="564.70,269.00 564.70,327.70 238.50,327.70 238.50,331.00" fill="none" stroke="#c00000" stroke-width="1.4" />
<polygon points="238.50,335.60 235.00,328.00 238.50,330.28 242.00,328.00" fill="#c00000"/>
<polygon points="559.70,260.30 571.60,260.30 571.60,255.70 582.00,265.10 571.60,274.50 571.60,269.90 559.70,269.90" fill="#0f6fc6"/>
<rect x="155.80" y="350.70" width="146.00" height="124.00" rx="3" fill="none" stroke="#ed7d31" stroke-width="1.6" stroke-dasharray="6.8 5" />
<polyline points="158.70,410.40 281.00,410.40" fill="none" stroke="#000" stroke-width="1.4" />
<rect x="203.00" y="335.40" width="71.00" height="24.60" rx="3" fill="#adb9ca" stroke="none" stroke-width="1" />
<text x="238.3" y="352.5" font-size="11.3" fill="#000" font-weight="bold" font-style="normal" text-anchor="middle" stroke="#000" stroke-width="0.22" >Softmax</text>
<polyline points="238.50,360.00 238.50,397.20" fill="none" stroke="#c00000" stroke-width="1.4" />
<polygon points="238.50,401.00 235.00,393.40 238.50,395.68 242.00,393.40" fill="#c00000"/>
<rect x="158.70" y="375.80" width="17.10" height="68.80" rx="2" fill="#d6a8d2" stroke="none" stroke-width="1" />
<text x="167.25" y="410.20" font-size="11.6" font-weight="bold" stroke="#000" stroke-width="0.22" text-anchor="middle" transform="rotate(90 167.25 410.20)" dy="3.71">Linear</text>
<rect x="181.80" y="375.80" width="17.50" height="68.80" rx="2" fill="#a9d18e" stroke="none" stroke-width="1" />
<text x="190.55" y="410.20" font-size="11.2" font-weight="bold" stroke="#000" stroke-width="0.22" text-anchor="middle" transform="rotate(90 190.55 410.20)" dy="3.58">Layer Norm</text>
<rect x="204.70" y="375.80" width="17.30" height="68.80" rx="2" fill="#d6a8d2" stroke="none" stroke-width="1" />
<text x="213.35" y="410.20" font-size="11.6" font-weight="bold" stroke="#000" stroke-width="0.22" text-anchor="middle" transform="rotate(90 213.35 410.20)" dy="3.71">Linear</text>
<rect x="257.20" y="375.80" width="17.10" height="68.80" rx="2" fill="#d6a8d2" stroke="none" stroke-width="1" />
<text x="265.75" y="410.20" font-size="11.6" font-weight="bold" stroke="#000" stroke-width="0.22" text-anchor="middle" transform="rotate(90 265.75 410.20)" dy="3.71">Linear</text>
<circle cx="238.5" cy="410.4" r="9.3" fill="#fff" stroke="#c00000" stroke-width="1.5"/>
<path d="M232.73,404.63L244.27,416.17M244.27,404.63L232.73,416.17" stroke="#c00000" stroke-width="1.5" fill="none"/>
<polyline points="222.00,410.40 225.40,410.40" fill="none" stroke="#000" stroke-width="1.4" />
<polygon points="229.20,410.40 221.60,413.90 223.88,410.40 221.60,406.90" fill="#000"/>
<polyline points="247.80,410.40 253.40,410.40" fill="none" stroke="#000" stroke-width="1.4" />
<polygon points="257.20,410.40 249.60,413.90 251.88,410.40 249.60,406.90" fill="#000"/>
<polyline points="274.30,410.40 278.00,410.40" fill="none" stroke="#000" stroke-width="1.4" />
<polygon points="281.80,410.40 274.20,413.90 276.48,410.40 274.20,406.90" fill="#000"/>
<polyline points="167.10,444.60 167.10,465.60 291.20,465.60 291.20,423.60" fill="none" stroke="#000" stroke-width="1.4" />
<polygon points="291.20,419.80 294.70,427.40 291.20,425.12 287.70,427.40" fill="#000"/>
<rect x="176.20" y="478.00" width="110.50" height="18.00" rx="9" fill="#f8cbad" stroke="none" stroke-width="1" />
<text x="231.5" y="490.8" font-size="11.3" fill="#000" font-weight="bold" font-style="normal" text-anchor="middle" stroke="#000" stroke-width="0.22" >Data Fusion Block</text>
<rect x="305.90" y="350.20" width="256.40" height="124.50" rx="3" fill="none" stroke="#4472c4" stroke-width="1.6" stroke-dasharray="6.8 5" />
<polyline points="300.50,410.40 540.00,410.40" fill="none" stroke="#000" stroke-width="1.4" />
<rect x="318.20" y="359.50" width="19.70" height="101.40" rx="2" fill="#a9d18e" stroke="none" stroke-width="1" />
<text x="328.05" y="410.20" font-size="11.8" font-weight="bold" stroke="#000" stroke-width="0.22" text-anchor="middle" transform="rotate(90 328.05 410.20)" dy="3.78">Layer Norm</text>
<rect x="343.30" y="359.50" width="19.70" height="101.40" rx="2" fill="#19bdf6" stroke="none" stroke-width="1" />
<text x="353.15" y="410.20" font-size="11.8" font-weight="bold" stroke="#000" stroke-width="0.22" text-anchor="middle" transform="rotate(90 353.15 410.20)" dy="3.78">Feed Forward</text>
<rect x="400.20" y="359.50" width="19.90" height="101.40" rx="2" fill="#a9d18e" stroke="none" stroke-width="1" />
<text x="410.15" y="410.20" font-size="11.8" font-weight="bold" stroke="#000" stroke-width="0.22" text-anchor="middle" transform="rotate(90 410.15 410.20)" dy="3.78">Layer Norm</text>
<rect x="426.10" y="359.50" width="20.00" height="101.40" rx="2" fill="#f4b183" stroke="none" stroke-width="1" />
<text x="436.10" y="410.20" font-size="11.8" font-weight="bold" stroke="#000" stroke-width="0.22" text-anchor="middle" transform="rotate(90 436.10 410.20)" dy="3.78">Linear Attention</text>
<rect x="482.90" y="359.50" width="19.90" height="101.40" rx="2" fill="#a9d18e" stroke="none" stroke-width="1" />
<text x="492.85" y="410.20" font-size="11.8" font-weight="bold" stroke="#000" stroke-width="0.22" text-anchor="middle" transform="rotate(90 492.85 410.20)" dy="3.78">Layer Norm</text>
<rect x="508.40" y="359.50" width="20.00" height="101.40" rx="2" fill="#19bdf6" stroke="none" stroke-width="1" />
<text x="518.40" y="410.20" font-size="11.8" font-weight="bold" stroke="#000" stroke-width="0.22" text-anchor="middle" transform="rotate(90 518.40 410.20)" dy="3.78">Feed Forward</text>
<circle cx="291.2" cy="410.4" r="9.3" fill="#fff" stroke="#7030a0" stroke-width="1.5"/>
<path d="M281.9,410.4L300.5,410.4M291.2,401.09999999999997L291.2,419.7" stroke="#7030a0" stroke-width="1.4" fill="none"/>
<circle cx="382.1" cy="410.4" r="9.3" fill="#fff" stroke="#7030a0" stroke-width="1.5"/>
<path d="M372.8,410.4L391.40000000000003,410.4M382.1,401.09999999999997L382.1,419.7" stroke="#7030a0" stroke-width="1.4" fill="none"/>
<circle cx="464.6" cy="410.4" r="9.3" fill="#fff" stroke="#7030a0" stroke-width="1.5"/>
<path d="M455.3,410.4L473.90000000000003,410.4M464.6,401.09999999999997L464.6,419.7" stroke="#7030a0" stroke-width="1.4" fill="none"/>
<circle cx="547.1" cy="410.4" r="9.3" fill="#fff" stroke="#7030a0" stroke-width="1.5"/>
<path d="M537.8000000000001,410.4L556.4,410.4M547.1,401.09999999999997L547.1,419.7" stroke="#7030a0" stroke-width="1.4" fill="none"/>
<polyline points="300.50,410.40 314.40,410.40" fill="none" stroke="#000" stroke-width="1.4" />
<polygon points="318.20,410.40 310.60,413.90 312.88,410.40 310.60,406.90" fill="#000"/>
<polyline points="363.00,410.40 369.00,410.40" fill="none" stroke="#000" stroke-width="1.4" />
<polygon points="372.80,410.40 365.20,413.90 367.48,410.40 365.20,406.90" fill="#000"/>
<polyline points="391.40,410.40 396.40,410.40" fill="none" stroke="#000" stroke-width="1.4" />
<polygon points="400.20,410.40 392.60,413.90 394.88,410.40 392.60,406.90" fill="#000"/>
<polyline points="446.10,410.40 451.50,410.40" fill="none" stroke="#000" stroke-width="1.4" />
<polygon points="455.30,410.40 447.70,413.90 449.98,410.40 447.70,406.90" fill="#000"/>
<polyline points="473.90,410.40 479.10,410.40" fill="none" stroke="#000" stroke-width="1.4" />
<polygon points="482.90,410.40 475.30,413.90 477.58,410.40 475.30,406.90" fill="#000"/>
<polyline points="528.40,410.40 534.00,410.40" fill="none" stroke="#000" stroke-width="1.4" />
<polygon points="537.80,410.40 530.20,413.90 532.48,410.40 530.20,406.90" fill="#000"/>
<polyline points="309.50,410.40 309.50,465.50 382.10,465.50 382.10,423.60" fill="none" stroke="#000" stroke-width="1.4" />
<polygon points="382.10,419.80 385.60,427.40 382.10,425.12 378.60,427.40" fill="#000"/>
<polyline points="393.00,410.40 393.00,465.50 464.60,465.50 464.60,423.60" fill="none" stroke="#000" stroke-width="1.4" />
<polygon points="464.60,419.80 468.10,427.40 464.60,425.12 461.10,427.40" fill="#000"/>
<polyline points="475.30,410.40 475.30,465.50 547.10,465.50 547.10,423.60" fill="none" stroke="#000" stroke-width="1.4" />
<polygon points="547.10,419.80 550.60,427.40 547.10,425.12 543.60,427.40" fill="#000"/>
<text x="535" y="367.4" font-size="16.5" fill="#14256b" font-weight="normal" font-style="normal" text-anchor="start" stroke="#14256b" stroke-width="0.4" >×</text>
<text x="544.8" y="367.4" font-size="14" fill="#14256b" font-weight="bold" font-style="italic" text-anchor="start" stroke="#14256b" stroke-width="0.22" >N</text>
<rect x="349.30" y="478.00" width="158.70" height="18.00" rx="9" fill="#bdd7ee" stroke="none" stroke-width="1" />
<text x="428.7" y="490.8" font-size="11.3" fill="#000" font-weight="bold" font-style="normal" text-anchor="middle" stroke="#000" stroke-width="0.22" >Probability Mapping Block</text>
<polygon points="558.90,405.30 570.80,405.30 570.80,400.40 580.80,409.90 570.80,419.40 570.80,414.50 558.90,414.50" fill="#c00000"/>
<text x="586.3" y="186.8" font-size="16" fill="#14256b" font-weight="bold" font-style="italic" text-anchor="start" stroke="#14256b" stroke-width="0.4" >μ</text>
<text x="595.6" y="190" font-size="11" fill="#14256b" font-weight="bold" font-style="italic" text-anchor="start" stroke="#14256b" stroke-width="0.3" >i</text>
<text x="599.8" y="186.8" font-size="12.6" fill="#14256b" font-weight="bold" font-style="normal" text-anchor="start" stroke="#14256b" stroke-width="0.22" >: Reconstructed DOSY Spectrum</text>
<polyline points="605.40,215.70 606.40,215.70 607.40,215.69 608.40,215.69 609.40,215.69 610.40,215.69 611.40,215.69 612.40,215.69 613.40,215.69 614.40,215.69 615.40,215.69 616.40,215.69 617.40,215.69 618.40,215.69 619.40,215.69 620.40,215.68 621.40,215.68 622.40,215.68 623.40,215.67 624.40,215.66 625.40,215.64 626.40,215.59 626.70,215.56 627.00,215.51 627.30,215.44 627.60,215.31 627.72,215.23 627.84,215.13 627.96,214.98 628.08,214.78 628.20,214.50 628.32,214.08 628.44,213.49 628.56,212.72 628.68,211.97 628.80,211.69 628.92,212.13 629.04,212.92 629.16,213.65 629.28,214.20 629.40,214.57 629.52,214.84 629.64,215.02 629.76,215.15 629.88,215.25 630.00,215.32 630.30,215.44 630.60,215.51 630.90,215.55 631.20,215.57 631.50,215.59 631.80,215.60 632.80,215.62 633.80,215.60 634.10,215.58 634.40,215.56 634.70,215.53 635.00,215.48 635.30,215.38 635.42,215.32 635.54,215.24 635.66,215.13 635.78,214.98 635.90,214.76 636.02,214.44 636.14,213.99 636.26,213.41 636.38,212.85 636.50,212.67 636.62,213.02 636.74,213.61 636.86,214.16 636.98,214.56 637.10,214.84 637.22,215.03 637.34,215.16 637.46,215.26 637.58,215.33 637.70,215.39 638.00,215.47 638.30,215.52 638.60,215.55 638.90,215.56 639.20,215.57 639.50,215.58 640.50,215.56 641.50,215.48 641.80,215.44 642.10,215.37 642.40,215.27 642.70,215.10 643.00,214.81 643.12,214.63 643.24,214.39 643.36,214.06 643.48,213.59 643.60,212.93 643.72,211.97 643.84,210.60 643.96,208.85 644.08,207.19 644.20,206.70 644.32,207.80 644.44,209.60 644.56,211.22 644.68,212.40 644.80,213.23 644.92,213.80 645.04,214.20 645.16,214.49 645.28,214.70 645.40,214.86 645.70,215.12 646.00,215.27 646.30,215.37 646.60,215.42 646.90,215.46 647.20,215.49 648.20,215.51 649.20,215.46 649.50,215.41 649.80,215.35 650.10,215.25 650.40,215.09 650.70,214.80 650.82,214.61 650.94,214.37 651.06,214.04 651.18,213.57 651.30,212.89 651.42,211.92 651.54,210.53 651.66,208.77 651.78,207.14 651.90,206.72 652.02,207.87 652.14,209.68 652.26,211.28 652.38,212.45 652.50,213.26 652.62,213.83 652.74,214.22 652.86,214.51 652.98,214.72 653.10,214.88 653.40,215.14 653.70,215.30 654.00,215.39 654.30,215.45 654.60,215.50 654.90,215.53 655.90,215.59 656.90,215.62 657.90,215.63 658.90,215.63 659.90,215.63 660.90,215.63 661.90,215.62 662.90,215.59 663.90,215.54 664.90,215.41 665.20,215.33 665.50,215.21 665.80,215.01 666.10,214.66 666.22,214.44 666.34,214.15 666.46,213.75 666.58,213.19 666.70,212.39 666.82,211.23 666.94,209.59 667.06,207.53 667.18,205.71 667.30,205.38 667.42,206.82 667.54,208.92 667.66,210.72 667.78,212.04 667.90,212.95 668.02,213.58 668.14,214.03 668.26,214.35 668.38,214.59 668.50,214.77 668.80,215.06 669.10,215.23 669.40,215.33 669.70,215.40 670.00,215.45 670.30,215.48 671.30,215.53 672.30,215.52 672.60,215.51 672.90,215.48 673.20,215.43 673.50,215.36 673.80,215.23 673.92,215.14 674.04,215.03 674.16,214.87 674.28,214.65 674.40,214.34 674.52,213.89 674.64,213.25 674.76,212.45 674.88,211.77 675.00,211.67 675.12,212.24 675.24,213.05 675.36,213.74 675.48,214.23 675.60,214.58 675.72,214.81 675.84,214.98 675.96,215.10 676.08,215.19 676.20,215.26 676.50,215.37 676.80,215.42 677.10,215.46 677.40,215.48 677.70,215.48 678.00,215.48 679.00,215.44 680.00,215.29 680.30,215.21 680.60,215.09 680.90,214.92 681.20,214.65 681.50,214.22 681.80,213.45 681.92,212.97 682.04,212.33 682.16,211.44 682.28,210.20 682.40,208.40 682.52,205.81 682.64,202.17 682.76,197.68 682.88,193.91 683.00,193.55 683.12,196.91 683.24,201.44 683.36,205.27 683.48,208.03 683.60,209.94 683.72,211.26 683.84,212.20 683.96,212.88 684.08,213.38 684.20,213.77 684.50,214.40 684.80,214.76 685.10,214.99 685.40,215.14 685.70,215.25 686.00,215.33 687.00,215.47 688.00,215.54 689.00,215.57 690.00,215.59 691.00,215.60 692.00,215.60 693.00,215.58 694.00,215.56 695.00,215.49 696.00,215.34 696.30,215.25 696.60,215.11 696.90,214.89 697.20,214.51 697.50,213.78 697.62,213.30 697.74,212.63 697.86,211.66 697.98,210.26 698.10,208.27 698.22,205.70 698.34,203.21 698.46,202.38 698.58,203.93 698.70,206.58 698.82,208.99 698.94,210.77 699.06,212.01 699.18,212.86 699.30,213.46 699.42,213.90 699.54,214.22 699.66,214.46 699.96,214.85 700.26,215.07 700.56,215.20 700.86,215.29 701.16,215.35 701.46,215.38 702.46,215.41 703.46,215.32 703.76,215.25 704.06,215.15 704.36,214.99 704.66,214.72 704.96,214.24 705.08,213.95 705.20,213.55 705.32,213.01 705.44,212.25 705.56,211.16 705.68,209.58 705.80,207.34 705.92,204.46 706.04,201.74 706.16,200.92 706.28,202.73 706.40,205.69 706.52,208.35 706.64,210.31 706.76,211.66 706.88,212.61 707.00,213.27 707.12,213.75 707.24,214.10 707.36,214.37 707.66,214.80 707.96,215.05 708.26,215.21 708.56,215.32 708.86,215.39 709.16,215.45 710.16,215.55 711.16,215.60 712.16,215.62 713.16,215.64 714.16,215.65 715.16,215.66 716.16,215.67 717.16,215.67 718.16,215.67 719.16,215.68 720.16,215.68 721.16,215.68 722.16,215.68 723.16,215.68 724.16,215.68 725.16,215.68 726.16,215.68 727.16,215.68 728.16,215.68 729.16,215.68 730.16,215.68 731.16,215.68 732.16,215.68 733.16,215.67 734.16,215.66 735.16,215.64 735.46,215.63 735.76,215.62 736.06,215.59 736.36,215.55 736.66,215.49 736.78,215.44 736.90,215.39 737.02,215.31 737.14,215.20 737.26,215.04 737.38,214.81 737.50,214.49 737.62,214.10 737.74,213.75 737.86,213.71 737.98,213.99 738.10,214.40 738.22,214.74 738.34,214.99 738.46,215.16 738.58,215.28 738.70,215.36 738.82,215.42 738.94,215.47 739.06,215.50 739.36,215.56 739.66,215.59 739.96,215.60 740.26,215.61 740.56,215.62 740.86,215.62 741.86,215.61 742.86,215.55 743.16,215.51 743.46,215.46 743.76,215.38 744.06,215.25 744.36,215.02 744.48,214.88 744.60,214.68 744.72,214.41 744.84,214.04 744.96,213.49 745.08,212.71 745.20,211.61 745.32,210.25 745.44,209.12 745.56,209.01 745.68,210.02 745.80,211.39 745.92,212.55 746.04,213.38 746.16,213.96 746.28,214.36 746.40,214.64 746.52,214.85 746.64,215.00 746.76,215.12 747.06,215.31 747.36,215.42 747.66,215.49 747.96,215.53 748.26,215.57 748.56,215.59 749.56,215.64 750.56,215.66 751.56,215.67 752.56,215.68 753.56,215.68 754.56,215.68 755.56,215.69 756.56,215.69 757.56,215.69 758.56,215.69 759.56,215.69 760.56,215.69 761.50,215.69" fill="none" stroke="#000" stroke-width="1.3" stroke-linejoin="round"/>
<rect x="605.00" y="222.00" width="156.80" height="90.20" rx="0" fill="none" stroke="#000" stroke-width="1.4" />
<path d="M628.79,234.00Q631.51,238.60 628.79,243.20Q626.07,238.60 628.79,234.00Z" fill="#2a2fe0"/>
<path d="M628.79,235.56Q630.47,238.60 628.79,241.64Q627.10,238.60 628.79,235.56Z" fill="#2f8fe8"/>
<path d="M644.18,233.40Q647.54,238.60 644.18,243.80Q640.82,238.60 644.18,233.40Z" fill="#2a2fe0"/>
<path d="M644.18,235.17Q646.26,238.60 644.18,242.03Q642.09,238.60 644.18,235.17Z" fill="#35c8d8"/>
<path d="M644.18,236.52Q645.45,238.60 644.18,240.68Q642.90,238.60 644.18,236.52Z" fill="#d8e04a"/>
<path d="M667.26,233.40Q670.62,238.60 667.26,243.80Q663.90,238.60 667.26,233.40Z" fill="#2a2fe0"/>
<path d="M667.26,235.17Q669.34,238.60 667.26,242.03Q665.18,238.60 667.26,235.17Z" fill="#35c8d8"/>
<path d="M667.26,236.52Q668.54,238.60 667.26,240.68Q665.98,238.60 667.26,236.52Z" fill="#d8e04a"/>
<path d="M698.44,233.00Q702.28,238.60 698.44,244.20Q694.60,238.60 698.44,233.00Z" fill="#2a2fe0"/>
<path d="M698.44,234.90Q700.82,238.60 698.44,242.30Q696.06,238.60 698.44,234.90Z" fill="#35c8d8"/>
<path d="M698.44,236.36Q699.90,238.60 698.44,240.84Q696.98,238.60 698.44,236.36Z" fill="#f4e628"/>
<path d="M745.51,233.40Q748.87,238.60 745.51,243.80Q742.15,238.60 745.51,233.40Z" fill="#2a2fe0"/>
<path d="M745.51,235.17Q747.59,238.60 745.51,242.03Q743.43,238.60 745.51,235.17Z" fill="#35c8d8"/>
<path d="M745.51,236.52Q746.79,238.60 745.51,240.68Q744.23,238.60 745.51,236.52Z" fill="#d8e04a"/>
<path d="M651.87,257.70Q655.23,262.90 651.87,268.10Q648.51,262.90 651.87,257.70Z" fill="#2a2fe0"/>
<path d="M651.87,259.47Q653.95,262.90 651.87,266.33Q649.79,262.90 651.87,259.47Z" fill="#35c8d8"/>
<path d="M651.87,260.82Q653.15,262.90 651.87,264.98Q650.59,262.90 651.87,260.82Z" fill="#d8e04a"/>
<path d="M682.95,257.30Q686.79,262.90 682.95,268.50Q679.11,262.90 682.95,257.30Z" fill="#2a2fe0"/>
<path d="M682.95,259.20Q685.33,262.90 682.95,266.60Q680.57,262.90 682.95,259.20Z" fill="#35c8d8"/>
<path d="M682.95,260.66Q684.41,262.90 682.95,265.14Q681.49,262.90 682.95,260.66Z" fill="#f4e628"/>
<path d="M706.14,258.30Q708.86,262.90 706.14,267.50Q703.42,262.90 706.14,258.30Z" fill="#2a2fe0"/>
<path d="M706.14,259.86Q707.82,262.90 706.14,265.94Q704.45,262.90 706.14,259.86Z" fill="#2f8fe8"/>
<path d="M636.48,291.20Q639.20,295.80 636.48,300.40Q633.76,295.80 636.48,291.20Z" fill="#2a2fe0"/>
<path d="M636.48,292.76Q638.17,295.80 636.48,298.84Q634.79,295.80 636.48,292.76Z" fill="#2f8fe8"/>
<path d="M674.96,291.20Q677.68,295.80 674.96,300.40Q672.24,295.80 674.96,291.20Z" fill="#2a2fe0"/>
<path d="M674.96,292.76Q676.64,295.80 674.96,298.84Q673.27,295.80 674.96,292.76Z" fill="#2f8fe8"/>
<path d="M682.95,290.20Q686.79,295.80 682.95,301.40Q679.11,295.80 682.95,290.20Z" fill="#2a2fe0"/>
<path d="M682.95,292.10Q685.33,295.80 682.95,299.50Q680.57,295.80 682.95,292.10Z" fill="#35c8d8"/>
<path d="M682.95,293.56Q684.41,295.80 682.95,298.04Q681.49,295.80 682.95,293.56Z" fill="#f4e628"/>
<path d="M706.14,290.20Q709.98,295.80 706.14,301.40Q702.30,295.80 706.14,290.20Z" fill="#2a2fe0"/>
<path d="M706.14,292.10Q708.52,295.80 706.14,299.50Q703.75,295.80 706.14,292.10Z" fill="#35c8d8"/>
<path d="M706.14,293.56Q707.59,295.80 706.14,298.04Q704.68,295.80 706.14,293.56Z" fill="#f4e628"/>
<path d="M737.82,292.00Q739.90,295.80 737.82,299.60Q735.74,295.80 737.82,292.00Z" fill="#2a2fe0"/>
<text x="598.0" y="266.2" font-size="9.95" fill="#000" font-weight="bold" font-style="italic" text-anchor="middle" stroke="#000" stroke-width="0.22" transform="rotate(-90 598.0 266.2)" >Diffusion Coefficient</text>
<text x="685.4" y="324" font-size="10.1" fill="#000" font-weight="bold" font-style="italic" text-anchor="middle" stroke="#000" stroke-width="0.22" >Chemical Shift</text>
<polyline points="605.40,363.30 606.40,363.29 607.40,363.29 608.40,363.29 609.40,363.29 610.40,363.29 611.40,363.29 612.40,363.29 613.40,363.29 614.40,363.29 615.40,363.29 616.40,363.29 617.40,363.29 618.40,363.29 619.40,363.29 620.40,363.28 621.40,363.28 622.40,363.28 623.40,363.27 624.40,363.26 625.40,363.23 626.40,363.18 626.70,363.15 627.00,363.10 627.30,363.02 627.60,362.89 627.72,362.80 627.84,362.69 627.96,362.54 628.08,362.33 628.20,362.02 628.32,361.58 628.44,360.96 628.56,360.14 628.68,359.34 628.80,359.05 628.92,359.52 629.04,360.36 629.16,361.13 629.28,361.71 629.40,362.11 629.52,362.38 629.64,362.58 629.76,362.72 629.88,362.82 630.00,362.90 630.30,363.02 630.60,363.09 630.90,363.14 631.20,363.17 631.50,363.18 631.80,363.20 632.80,363.21 633.80,363.19 634.10,363.18 634.40,363.15 634.70,363.12 635.00,363.06 635.30,362.96 635.42,362.90 635.54,362.81 635.66,362.70 635.78,362.53 635.90,362.30 636.02,361.97 636.14,361.49 636.26,360.88 636.38,360.28 636.50,360.08 636.62,360.45 636.74,361.09 636.86,361.66 636.98,362.09 637.10,362.38 637.22,362.59 637.34,362.73 637.46,362.83 637.58,362.91 637.70,362.97 638.00,363.06 638.30,363.11 638.60,363.14 638.90,363.15 639.20,363.16 639.50,363.17 640.50,363.15 641.50,363.07 641.80,363.02 642.10,362.95 642.40,362.84 642.70,362.67 643.00,362.36 643.12,362.17 643.24,361.91 643.36,361.56 643.48,361.07 643.60,360.36 643.72,359.34 643.84,357.89 643.96,356.04 644.08,354.28 644.20,353.76 644.32,354.93 644.44,356.84 644.56,358.55 644.68,359.81 644.80,360.68 644.92,361.28 645.04,361.71 645.16,362.02 645.28,362.24 645.40,362.41 645.70,362.69 646.00,362.85 646.30,362.94 646.60,363.01 646.90,363.05 647.20,363.07 648.20,363.10 649.20,363.04 649.50,363.00 649.80,362.93 650.10,362.83 650.40,362.65 650.70,362.34 650.82,362.15 650.94,361.89 651.06,361.54 651.18,361.04 651.30,360.32 651.42,359.29 651.54,357.82 651.66,355.95 651.78,354.23 651.90,353.78 652.02,355.00 652.14,356.92 652.26,358.61 652.38,359.86 652.50,360.72 652.62,361.31 652.74,361.73 652.86,362.04 652.98,362.26 653.10,362.43 653.40,362.71 653.70,362.87 654.00,362.97 654.30,363.04 654.60,363.09 654.90,363.12 655.90,363.18 656.90,363.21 657.90,363.23 658.90,363.23 659.90,363.23 660.90,363.22 661.90,363.21 662.90,363.18 663.90,363.13 664.90,362.99 665.20,362.90 665.50,362.78 665.80,362.57 666.10,362.20 666.22,361.97 666.34,361.66 666.46,361.24 666.58,360.64 666.70,359.79 666.82,358.56 666.94,356.82 667.06,354.64 667.18,352.71 667.30,352.36 667.42,353.89 667.54,356.11 667.66,358.03 667.78,359.42 667.90,360.38 668.02,361.05 668.14,361.52 668.26,361.87 668.38,362.12 668.50,362.31 668.80,362.62 669.10,362.80 669.40,362.91 669.70,362.99 670.00,363.04 670.30,363.07 671.30,363.12 672.30,363.11 672.60,363.09 672.90,363.07 673.20,363.02 673.50,362.94 673.80,362.80 673.92,362.71 674.04,362.59 674.16,362.42 674.28,362.19 674.40,361.86 674.52,361.38 674.64,360.70 674.76,359.86 674.88,359.13 675.00,359.03 675.12,359.64 675.24,360.49 675.36,361.22 675.48,361.74 675.60,362.11 675.72,362.36 675.84,362.54 675.96,362.67 676.08,362.76 676.20,362.83 676.50,362.95 676.80,363.01 677.10,363.04 677.40,363.06 677.70,363.07 678.00,363.07 679.00,363.02 680.00,362.86 680.30,362.78 680.60,362.65 680.90,362.47 681.20,362.19 681.50,361.73 681.80,360.92 681.92,360.41 682.04,359.73 682.16,358.79 682.28,357.47 682.40,355.57 682.52,352.82 682.64,348.96 682.76,344.20 682.88,340.21 683.00,339.82 683.12,343.38 683.24,348.18 683.36,352.24 683.48,355.16 683.60,357.19 683.72,358.60 683.84,359.59 683.96,360.31 684.08,360.85 684.20,361.25 684.50,361.92 684.80,362.30 685.10,362.55 685.40,362.71 685.70,362.82 686.00,362.90 687.00,363.06 688.00,363.13 689.00,363.17 690.00,363.19 691.00,363.19 692.00,363.19 693.00,363.18 694.00,363.15 695.00,363.08 696.00,362.92 696.30,362.82 696.60,362.67 696.90,362.44 697.20,362.04 697.50,361.27 697.62,360.76 697.74,360.04 697.86,359.02 697.98,357.53 698.10,355.42 698.22,352.70 698.34,350.07 698.46,349.18 698.58,350.82 698.70,353.63 698.82,356.18 698.94,358.07 699.06,359.38 699.18,360.29 699.30,360.93 699.42,361.39 699.54,361.73 699.66,361.98 699.96,362.39 700.26,362.63 700.56,362.77 700.86,362.86 701.16,362.92 701.46,362.96 702.46,363.00 703.46,362.90 703.76,362.83 704.06,362.72 704.36,362.54 704.66,362.26 704.96,361.76 705.08,361.44 705.20,361.02 705.32,360.45 705.44,359.64 705.56,358.49 705.68,356.81 705.80,354.44 705.92,351.38 706.04,348.50 706.16,347.63 706.28,349.55 706.40,352.69 706.52,355.51 706.64,357.58 706.76,359.02 706.88,360.02 707.00,360.72 707.12,361.23 707.24,361.60 707.36,361.89 707.66,362.35 707.96,362.62 708.26,362.78 708.56,362.90 708.86,362.97 709.16,363.03 710.16,363.14 711.16,363.19 712.16,363.22 713.16,363.24 714.16,363.25 715.16,363.26 716.16,363.26 717.16,363.27 718.16,363.27 719.16,363.28 720.16,363.28 721.16,363.28 722.16,363.28 723.16,363.28 724.16,363.28 725.16,363.28 726.16,363.28 727.16,363.28 728.16,363.28 729.16,363.28 730.16,363.28 731.16,363.28 732.16,363.28 733.16,363.27 734.16,363.26 735.16,363.24 735.46,363.23 735.76,363.21 736.06,363.19 736.36,363.15 736.66,363.07 736.78,363.03 736.90,362.97 737.02,362.89 737.14,362.77 737.26,362.60 737.38,362.36 737.50,362.02 737.62,361.60 737.74,361.24 737.86,361.19 737.98,361.49 738.10,361.92 738.22,362.28 738.34,362.55 738.46,362.73 738.58,362.85 738.70,362.94 738.82,363.01 738.94,363.05 739.06,363.09 739.36,363.15 739.66,363.18 739.96,363.20 740.26,363.21 740.56,363.21 740.86,363.21 741.86,363.20 742.86,363.14 743.16,363.10 743.46,363.05 743.76,362.96 744.06,362.82 744.36,362.58 744.48,362.43 744.60,362.22 744.72,361.94 744.84,361.54 744.96,360.96 745.08,360.13 745.20,358.97 745.32,357.53 745.44,356.32 745.56,356.20 745.68,357.28 745.80,358.73 745.92,359.96 746.04,360.84 746.16,361.45 746.28,361.88 746.40,362.18 746.52,362.40 746.64,362.56 746.76,362.68 747.06,362.88 747.36,363.00 747.66,363.07 747.96,363.12 748.26,363.16 748.56,363.18 749.56,363.23 750.56,363.25 751.56,363.27 752.56,363.27 753.56,363.28 754.56,363.28 755.56,363.29 756.56,363.29 757.56,363.29 758.56,363.29 759.56,363.29 760.56,363.29 761.50,363.29" fill="none" stroke="#000" stroke-width="1.3" stroke-linejoin="round"/>
<rect x="605.00" y="369.20" width="156.80" height="90.10" rx="0" fill="none" stroke="#000" stroke-width="1.4" />
<path d="M628.79,381.40Q630.87,385.10 628.79,388.80Q626.71,385.10 628.79,381.40Z" fill="#ee1c1c"/>
<path d="M644.18,381.40Q646.26,385.10 644.18,388.80Q642.10,385.10 644.18,381.40Z" fill="#ee1c1c"/>
<path d="M667.26,381.40Q669.34,385.10 667.26,388.80Q665.18,385.10 667.26,381.40Z" fill="#ee1c1c"/>
<path d="M698.44,381.40Q700.52,385.10 698.44,388.80Q696.36,385.10 698.44,381.40Z" fill="#ee1c1c"/>
<path d="M745.51,381.40Q747.59,385.10 745.51,388.80Q743.43,385.10 745.51,381.40Z" fill="#ee1c1c"/>
<path d="M651.87,405.90Q653.95,409.60 651.87,413.30Q649.79,409.60 651.87,405.90Z" fill="#ee1c1c"/>
<path d="M682.95,405.90Q685.03,409.60 682.95,413.30Q680.87,409.60 682.95,405.90Z" fill="#ee1c1c"/>
<path d="M706.14,405.90Q708.22,409.60 706.14,413.30Q704.06,409.60 706.14,405.90Z" fill="#ee1c1c"/>
<path d="M636.48,438.60Q638.88,442.80 636.48,447.00Q634.08,442.80 636.48,438.60Z" fill="#ee1c1c"/>
<path d="M674.96,437.40Q678.80,442.80 674.96,448.20Q671.12,442.80 674.96,437.40Z" fill="#ee1c1c"/>
<path d="M674.96,439.83Q676.88,442.80 674.96,445.77Q673.04,442.80 674.96,439.83Z" fill="#f6c21c"/>
<path d="M682.95,437.40Q686.79,442.80 682.95,448.20Q679.11,442.80 682.95,437.40Z" fill="#ee1c1c"/>
<path d="M682.95,439.83Q684.87,442.80 682.95,445.77Q681.03,442.80 682.95,439.83Z" fill="#f6c21c"/>
<path d="M706.14,437.40Q709.98,442.80 706.14,448.20Q702.30,442.80 706.14,437.40Z" fill="#ee1c1c"/>
<path d="M706.14,439.83Q708.06,442.80 706.14,445.77Q704.22,442.80 706.14,439.83Z" fill="#f6c21c"/>
<path d="M737.82,438.60Q740.22,442.80 737.82,447.00Q735.42,442.80 737.82,438.60Z" fill="#ee1c1c"/>
<text x="597.6" y="413.2" font-size="9.95" fill="#000" font-weight="bold" font-style="italic" text-anchor="middle" stroke="#000" stroke-width="0.22" transform="rotate(-90 597.6 413.2)" >Diffusion Coefficient</text>
<text x="677.7" y="470.3" font-size="10.1" fill="#000" font-weight="bold" font-style="italic" text-anchor="middle" stroke="#000" stroke-width="0.22" >Chemical Shift</text>
<text x="638.6" y="491" font-size="17" fill="#14256b" font-weight="bold" font-style="italic" text-anchor="start" stroke="#14256b" stroke-width="0.4" >σ</text>
<text x="649.5" y="485" font-size="10.5" fill="#14256b" font-weight="bold" font-style="normal" text-anchor="start" stroke="#14256b" stroke-width="0.22" >2</text>
<text x="649.5" y="495.5" font-size="10.5" fill="#14256b" font-weight="bold" font-style="italic" text-anchor="start" stroke="#14256b" stroke-width="0.22" >i</text>
<text x="657.5" y="491" font-size="12.3" fill="#14256b" font-weight="bold" font-style="normal" text-anchor="start" stroke="#14256b" stroke-width="0.22" >: Variance</text>
<text x="17.5" y="542.9" font-size="16" fill="#000" font-weight="bold" font-style="normal" text-anchor="start" stroke="#000" stroke-width="0.22" >E</text>
<text x="124" y="542.9" font-size="15.7" fill="#14256b" font-weight="bold" font-style="normal" text-anchor="middle" stroke="#14256b" stroke-width="0.32" >Uncertainty analysis</text>
<polyline points="34.50,571.59 35.50,571.59 36.50,571.59 37.50,571.59 38.50,571.59 39.50,571.59 40.50,571.59 41.50,571.59 42.50,571.59 43.50,571.59 44.50,571.59 45.50,571.59 46.50,571.59 47.50,571.58 48.50,571.58 49.50,571.57 50.50,571.57 51.50,571.56 52.50,571.53 53.50,571.47 53.80,571.44 54.10,571.38 54.40,571.29 54.70,571.12 54.82,571.02 54.94,570.87 55.06,570.67 55.18,570.37 55.30,569.95 55.42,569.34 55.54,568.57 55.66,567.83 55.78,567.59 55.90,568.07 56.02,568.87 56.14,569.59 56.26,570.12 56.38,570.49 56.50,570.74 56.62,570.92 56.74,571.05 56.86,571.15 56.98,571.22 57.28,571.33 57.58,571.40 57.88,571.44 58.18,571.47 58.48,571.48 58.78,571.49 59.78,571.49 60.08,571.49 60.38,571.47 60.68,571.45 60.98,571.42 61.28,571.37 61.58,571.27 61.70,571.21 61.82,571.13 61.94,571.01 62.06,570.86 62.18,570.64 62.30,570.31 62.42,569.85 62.54,569.27 62.66,568.72 62.78,568.56 62.90,568.94 63.02,569.54 63.14,570.08 63.26,570.47 63.38,570.74 63.50,570.93 63.62,571.06 63.74,571.15 63.86,571.22 63.98,571.28 64.28,571.36 64.58,571.40 64.88,571.43 65.18,571.44 65.48,571.45 65.78,571.45 66.78,571.40 67.08,571.37 67.38,571.33 67.68,571.26 67.98,571.16 68.28,570.99 68.58,570.69 68.70,570.51 68.82,570.26 68.94,569.93 69.06,569.45 69.18,568.77 69.30,567.79 69.42,566.40 69.54,564.63 69.66,563.01 69.78,562.62 69.90,563.80 70.02,565.60 70.14,567.19 70.26,568.35 70.38,569.16 70.50,569.72 70.62,570.11 70.74,570.39 70.86,570.60 70.98,570.76 71.28,571.02 71.58,571.16 71.88,571.25 72.18,571.31 72.48,571.34 72.78,571.36 73.78,571.36 74.08,571.33 74.38,571.30 74.68,571.23 74.98,571.14 75.28,570.97 75.58,570.68 75.70,570.49 75.82,570.24 75.94,569.90 76.06,569.42 76.18,568.73 76.30,567.74 76.42,566.33 76.54,564.55 76.66,562.96 76.78,562.64 76.90,563.87 77.02,565.68 77.14,567.25 77.26,568.40 77.38,569.20 77.50,569.75 77.62,570.14 77.74,570.42 77.86,570.63 77.98,570.78 78.28,571.04 78.58,571.19 78.88,571.29 79.18,571.35 79.48,571.39 79.78,571.42 80.78,571.48 81.78,571.51 82.78,571.52 83.78,571.52 84.78,571.52 85.78,571.50 86.78,571.47 87.78,571.39 88.08,571.35 88.38,571.30 88.68,571.22 88.98,571.10 89.28,570.90 89.58,570.54 89.70,570.32 89.82,570.03 89.94,569.62 90.06,569.05 90.18,568.22 90.30,567.04 90.42,565.36 90.54,563.29 90.66,561.53 90.78,561.31 90.90,562.84 91.02,564.93 91.14,566.71 91.26,568.00 91.38,568.89 91.50,569.50 91.62,569.94 91.74,570.25 91.86,570.49 91.98,570.67 92.28,570.95 92.58,571.12 92.88,571.22 93.18,571.29 93.48,571.34 93.78,571.37 94.78,571.40 95.08,571.39 95.38,571.38 95.68,571.36 95.98,571.31 96.28,571.24 96.58,571.10 96.70,571.02 96.82,570.90 96.94,570.74 97.06,570.52 97.18,570.20 97.30,569.74 97.42,569.08 97.54,568.28 97.66,567.62 97.78,567.57 97.90,568.17 98.02,568.98 98.14,569.65 98.26,570.14 98.38,570.47 98.50,570.71 98.62,570.87 98.74,570.99 98.86,571.07 98.98,571.14 99.28,571.24 99.58,571.30 99.88,571.32 100.18,571.34 100.48,571.34 100.78,571.33 101.78,571.23 102.78,570.91 103.08,570.70 103.38,570.38 103.68,569.83 103.98,568.80 104.10,568.13 104.22,567.21 104.34,565.91 104.46,564.03 104.58,561.32 104.70,557.55 104.82,553.03 104.94,549.54 105.06,549.69 105.18,553.35 105.30,557.85 105.42,561.55 105.54,564.19 105.66,566.02 105.78,567.29 105.90,568.19 106.02,568.84 106.14,569.33 106.26,569.70 106.56,570.31 106.86,570.67 107.16,570.89 107.46,571.04 107.76,571.15 108.06,571.22 109.06,571.37 110.06,571.43 111.06,571.46 112.06,571.48 113.06,571.48 114.06,571.46 115.06,571.43 116.06,571.34 117.06,571.09 117.36,570.92 117.66,570.65 117.96,570.16 118.08,569.85 118.20,569.44 118.32,568.86 118.44,568.05 118.56,566.87 118.68,565.17 118.80,562.85 118.92,560.17 119.04,558.36 119.16,558.84 119.28,561.19 119.40,563.81 119.52,565.90 119.64,567.37 119.76,568.38 119.88,569.09 120.00,569.60 120.12,569.96 120.24,570.24 120.36,570.44 120.66,570.78 120.96,570.98 121.26,571.10 121.56,571.17 121.86,571.22 122.16,571.25 123.16,571.22 123.46,571.18 123.76,571.11 124.06,571.00 124.36,570.82 124.66,570.53 124.96,569.98 125.08,569.64 125.20,569.17 125.32,568.53 125.44,567.61 125.56,566.28 125.68,564.37 125.80,561.76 125.92,558.78 126.04,556.85 126.16,557.51 126.28,560.17 126.40,563.08 126.52,565.36 126.64,566.98 126.76,568.10 126.88,568.88 127.00,569.43 127.12,569.84 127.24,570.14 127.36,570.38 127.66,570.76 127.96,570.99 128.26,571.13 128.56,571.23 128.86,571.30 129.16,571.35 130.16,571.45 131.16,571.50 132.16,571.52 133.16,571.54 134.16,571.55 135.16,571.56 136.16,571.56 137.16,571.57 138.16,571.57 139.16,571.58 140.16,571.58 141.16,571.58 142.16,571.58 143.16,571.58 144.16,571.58 145.16,571.58 146.16,571.58 147.16,571.58 148.16,571.58 149.16,571.58 150.16,571.57 151.16,571.56 152.16,571.54 152.46,571.53 152.76,571.52 153.06,571.50 153.36,571.46 153.66,571.40 153.96,571.28 154.08,571.20 154.20,571.09 154.32,570.93 154.44,570.70 154.56,570.37 154.68,569.97 154.80,569.64 154.92,569.61 155.04,569.91 155.16,570.31 155.28,570.65 155.40,570.89 155.52,571.06 155.64,571.18 155.76,571.26 155.88,571.32 156.00,571.36 156.12,571.40 156.42,571.45 156.72,571.48 157.02,571.49 157.32,571.50 157.62,571.50 157.92,571.50 158.92,571.47 159.22,571.44 159.52,571.41 159.82,571.36 160.12,571.28 160.42,571.15 160.72,570.91 160.84,570.77 160.96,570.57 161.08,570.30 161.20,569.91 161.32,569.36 161.44,568.57 161.56,567.45 161.68,566.09 161.80,564.98 161.92,564.93 162.04,565.98 162.16,567.35 162.28,568.49 162.40,569.31 162.52,569.88 162.64,570.27 162.76,570.55 162.88,570.76 163.00,570.91 163.12,571.02 163.42,571.21 163.72,571.32 164.02,571.39 164.32,571.43 164.62,571.47 164.92,571.49 165.92,571.53 166.92,571.56 167.92,571.57 168.92,571.58 169.92,571.58 170.92,571.58 171.92,571.59 172.92,571.59 173.92,571.59 174.92,571.59 175.92,571.59 176.40,571.59" fill="none" stroke="#000" stroke-width="1.3" stroke-linejoin="round"/>
<rect x="34.10" y="576.80" width="142.90" height="82.60" rx="0" fill="none" stroke="#000" stroke-width="1.4" />
<rect x="53.76" y="586.80" width="4.00" height="9.80" rx="0" fill="#fff" stroke="#3d8fe0" stroke-width="0.8" />
<path d="M55.76,587.80Q58.16,591.70 55.76,595.60Q53.36,591.70 55.76,587.80Z" fill="#ee1c1c"/>
<rect x="67.75" y="586.80" width="4.00" height="9.80" rx="0" fill="#fff" stroke="#3d8fe0" stroke-width="0.8" />
<path d="M69.75,587.80Q72.15,591.70 69.75,595.60Q67.35,591.70 69.75,587.80Z" fill="#ee1c1c"/>
<rect x="88.73" y="586.80" width="4.00" height="9.80" rx="0" fill="#fff" stroke="#3d8fe0" stroke-width="0.8" />
<path d="M90.73,587.80Q93.13,591.70 90.73,595.60Q88.33,591.70 90.73,587.80Z" fill="#ee1c1c"/>
<rect x="117.08" y="586.80" width="4.00" height="9.80" rx="0" fill="#fff" stroke="#3d8fe0" stroke-width="0.8" />
<path d="M119.08,587.80Q121.48,591.70 119.08,595.60Q116.68,591.70 119.08,587.80Z" fill="#ee1c1c"/>
<rect x="159.86" y="586.80" width="4.00" height="9.80" rx="0" fill="#fff" stroke="#3d8fe0" stroke-width="0.8" />
<path d="M161.86,587.80Q164.26,591.70 161.86,595.60Q159.46,591.70 161.86,587.80Z" fill="#ee1c1c"/>
<rect x="74.74" y="609.40" width="4.00" height="9.80" rx="0" fill="#fff" stroke="#3d8fe0" stroke-width="0.8" />
<path d="M76.74,610.40Q79.14,614.30 76.74,618.20Q74.34,614.30 76.74,610.40Z" fill="#ee1c1c"/>
<rect x="103.00" y="609.40" width="4.00" height="9.80" rx="0" fill="#fff" stroke="#3d8fe0" stroke-width="0.8" />
<path d="M105.00,610.40Q107.40,614.30 105.00,618.20Q102.60,614.30 105.00,610.40Z" fill="#ee1c1c"/>
<rect x="124.07" y="609.40" width="4.00" height="9.80" rx="0" fill="#fff" stroke="#3d8fe0" stroke-width="0.8" />
<path d="M126.07,610.40Q128.47,614.30 126.07,618.20Q123.67,614.30 126.07,610.40Z" fill="#ee1c1c"/>
<rect x="60.75" y="639.50" width="4.00" height="9.80" rx="0" fill="#fff" stroke="#3d8fe0" stroke-width="0.8" />
<path d="M62.75,640.50Q65.15,644.40 62.75,648.30Q60.35,644.40 62.75,640.50Z" fill="#ee1c1c"/>
<rect x="94.63" y="638.80" width="6.20" height="11.20" rx="0" fill="#fff" stroke="#3d8fe0" stroke-width="0.8" />
<path d="M97.73,639.00Q101.57,644.40 97.73,649.80Q93.89,644.40 97.73,639.00Z" fill="#ee1c1c"/>
<path d="M97.73,641.43Q99.65,644.40 97.73,647.37Q95.81,644.40 97.73,641.43Z" fill="#f6c21c"/>
<rect x="101.90" y="638.80" width="6.20" height="11.20" rx="0" fill="#fff" stroke="#3d8fe0" stroke-width="0.8" />
<path d="M105.00,639.00Q108.84,644.40 105.00,649.80Q101.16,644.40 105.00,639.00Z" fill="#ee1c1c"/>
<path d="M105.00,641.43Q106.92,644.40 105.00,647.37Q103.08,644.40 105.00,641.43Z" fill="#f6c21c"/>
<rect x="122.97" y="638.80" width="6.20" height="11.20" rx="0" fill="#fff" stroke="#3d8fe0" stroke-width="0.8" />
<path d="M126.07,639.00Q129.91,644.40 126.07,649.80Q122.23,644.40 126.07,639.00Z" fill="#ee1c1c"/>
<path d="M126.07,641.43Q127.99,644.40 126.07,647.37Q124.15,644.40 126.07,641.43Z" fill="#f6c21c"/>
<rect x="152.87" y="639.50" width="4.00" height="9.80" rx="0" fill="#fff" stroke="#3d8fe0" stroke-width="0.8" />
<path d="M154.87,640.50Q157.27,644.40 154.87,648.30Q152.47,644.40 154.87,640.50Z" fill="#ee1c1c"/>
<text x="27.8" y="615.8" font-size="9.8" fill="#000" font-weight="bold" font-style="italic" text-anchor="middle" stroke="#000" stroke-width="0.22" transform="rotate(-90 27.8 615.8)" >Diffusion Coefficient</text>
<text x="105.7" y="671.8" font-size="10.1" fill="#000" font-weight="bold" font-style="italic" text-anchor="middle" stroke="#000" stroke-width="0.22" >Chemical Shift</text>
<text x="104.5" y="684.8" font-size="12.3" fill="#14256b" font-weight="bold" font-style="normal" text-anchor="middle" stroke="#14256b" stroke-width="0.32" >Peak Detection</text>
<polygon points="185.50,609.90 197.60,609.90 197.60,604.70 207.60,614.70 197.60,624.70 197.60,619.50 185.50,619.50" fill="#002060"/>
<text x="242.4" y="579.9" font-size="13.5" fill="#14256b" font-weight="bold" font-style="italic" text-anchor="middle" stroke="#14256b" stroke-width="0.22" >σ</text>
<text x="294.3" y="579.5" font-size="13.5" fill="#14256b" font-weight="bold" font-style="italic" text-anchor="middle" stroke="#14256b" stroke-width="0.22" >y</text>
<defs><filter id="cs2" x="-20%" y="-20%" width="140%" height="140%"><feGaussianBlur stdDeviation="0.9"/></filter></defs>
<rect x="233.00" y="584.90" width="24.80" height="20.10" fill="#333" opacity="0.7" filter="url(#cs2)"/>
<rect x="232.70" y="584.30" width="24.20" height="19.30" rx="0" fill="#fbfbfb" stroke="#555" stroke-width="0.7" />
<ellipse cx="255.40" cy="593.95" rx="0.8" ry="2.2" fill="#ee1c1c"/>
<rect x="230.00" y="587.70" width="24.80" height="20.10" fill="#333" opacity="0.7" filter="url(#cs2)"/>
<rect x="229.70" y="587.10" width="24.20" height="19.30" rx="0" fill="#fbfbfb" stroke="#555" stroke-width="0.7" />
<ellipse cx="252.40" cy="596.75" rx="0.8" ry="2.2" fill="#ee1c1c"/>
<rect x="227.00" y="590.50" width="24.80" height="20.10" fill="#333" opacity="0.7" filter="url(#cs2)"/>
<rect x="226.70" y="589.90" width="24.20" height="19.30" rx="0" fill="#fbfbfb" stroke="#555" stroke-width="0.7" />
<ellipse cx="239.20000000000002" cy="598.65" rx="9.6" ry="2.9" fill="none" stroke="#f03030" stroke-width="0.6"/>
<path d="M232.70000000000002,598.65 Q235.20000000000002,593.05 239.20000000000002,593.25 Q243.20000000000002,593.05 245.70000000000002,598.65 Q243.20000000000002,604.25 239.20000000000002,604.05 Q235.20000000000002,604.25 232.70000000000002,598.65Z" fill="#f01414"/>
<circle cx="239.20000000000002" cy="598.65" r="3.2" fill="#f6501a"/>
<circle cx="239.20000000000002" cy="598.65" r="1.7" fill="#f8cc20"/>
<rect x="286.00" y="586.30" width="24.30" height="18.70" fill="#333" opacity="0.7" filter="url(#cs2)"/>
<rect x="285.70" y="585.70" width="23.70" height="17.90" rx="0" fill="#fbfbfb" stroke="#555" stroke-width="0.7" />
<rect x="283.00" y="589.10" width="24.30" height="18.70" fill="#333" opacity="0.7" filter="url(#cs2)"/>
<rect x="282.70" y="588.50" width="23.70" height="17.90" rx="0" fill="#fbfbfb" stroke="#555" stroke-width="0.7" />
<rect x="280.00" y="591.90" width="24.30" height="18.70" fill="#333" opacity="0.7" filter="url(#cs2)"/>
<rect x="279.70" y="591.30" width="23.70" height="17.90" rx="0" fill="#fbfbfb" stroke="#555" stroke-width="0.7" />
<ellipse cx="291.94999999999993" cy="600.15" rx="8.6" ry="2.8" fill="none" stroke="#5040e0" stroke-width="0.6"/>
<path d="M286.1499999999999,600.15 Q288.44999999999993,595.15 291.94999999999993,595.35 Q295.44999999999993,595.15 297.74999999999994,600.15 Q295.44999999999993,605.15 291.94999999999993,604.9499999999999 Q288.44999999999993,605.15 286.1499999999999,600.15Z" fill="#3a32e0"/>
<circle cx="291.94999999999993" cy="600.15" r="3.0" fill="#2f8ff0"/>
<circle cx="291.94999999999993" cy="600.15" r="1.8" fill="#40d8c8"/>
<circle cx="291.94999999999993" cy="600.15" r="0.9" fill="#f0e030"/>
<text x="218.3" y="637.6" font-size="19.5" fill="#000" font-weight="bold" font-style="italic" text-anchor="start" stroke="#000" stroke-width="0.4" >σ</text>
<text x="228.3" y="640.5" font-size="13.8" fill="#000" font-weight="bold" font-style="italic" text-anchor="start" stroke="#000" stroke-width="0.4" >norm</text>
<text x="264.4" y="638.4" font-size="17" fill="#000" font-weight="bold" font-style="normal" text-anchor="start" stroke="#000" stroke-width="0.22" >=</text>
<text x="280.4" y="625.8" font-size="18" fill="#000" font-weight="bold" font-style="italic" text-anchor="start" stroke="#000" stroke-width="0.4" >σ</text>
<text x="289.6" y="628.2" font-size="13.8" fill="#000" font-weight="bold" font-style="italic" text-anchor="start" stroke="#000" stroke-width="0.4" >max</text>
<line x1="280" y1="632.7" x2="316" y2="632.7" stroke="#000" stroke-width="1.3"/>
<text x="280.6" y="645.8" font-size="18" fill="#000" font-weight="bold" font-style="italic" text-anchor="start" stroke="#000" stroke-width="0.4" >y</text>
<text x="289.6" y="649.4" font-size="13.8" fill="#000" font-weight="bold" font-style="italic" text-anchor="start" stroke="#000" stroke-width="0.4" >max</text>
<text x="265.2" y="685.2" font-size="12.3" fill="#14256b" font-weight="bold" font-style="normal" text-anchor="middle" stroke="#14256b" stroke-width="0.32" >Variance Normalization</text>
<polygon points="340.30,608.90 352.30,608.90 352.30,603.70 362.20,613.70 352.30,623.70 352.30,618.50 340.30,618.50" fill="#002060"/>
<polyline points="397.60,572.20 397.60,657.60 544.80,657.60" fill="none" stroke="#000" stroke-width="1.5" />
<polyline points="462.50,572.70 462.50,657.60" fill="none" stroke="#222" stroke-width="0.9" stroke-dasharray="1.8 1.4" />
<path d="M397.6,638 C405,618 413,600.5 424,600.3 C438,600.3 447,634 462.5,649.3 C466,652 469,653.3 472,653 C479,652.5 484,645.5 493.1,645.5 C503,645.5 510,651.5 522,653 C530,654 538,654.5 544.6,655.6" fill="none" stroke="#1f77d4" stroke-width="1.5"/>
<path d="M397.6,648.5 C404,642 412,636.7 421.5,636.7 C434,636.7 448,645 462.5,650 C465,649.5 467,649.2 469.2,649.3 C474,649.5 478,653.2 483,653 C490,652.5 495,648 503.2,648 C510,648 514,649.5 520.7,649.8 C528,650.3 534,652.5 539.6,654.5" fill="none" stroke="#ed7d31" stroke-width="1.5"/>
<text x="428.5" y="567.6" font-size="10.1" fill="#14256b" font-weight="bold" font-style="normal" text-anchor="middle" stroke="#14256b" stroke-width="0.22" >High</text>
<text x="429.7" y="580.2" font-size="10.1" fill="#14256b" font-weight="bold" font-style="normal" text-anchor="middle" stroke="#14256b" stroke-width="0.22" >Confidence</text>
<text x="499.9" y="566.4" font-size="10.1" fill="#14256b" font-weight="bold" font-style="normal" text-anchor="middle" stroke="#14256b" stroke-width="0.22" >Low</text>
<text x="500.7" y="578.4" font-size="10.1" fill="#14256b" font-weight="bold" font-style="normal" text-anchor="middle" stroke="#14256b" stroke-width="0.22" >Confidence</text>
<polygon points="412.20,589.80 417.40,585.40 417.40,587.70 440.20,587.70 440.20,585.40 445.40,589.80 440.20,594.20 440.20,591.90 417.40,591.90 417.40,594.20" fill="#fff" stroke="#62a53c" stroke-width="1.2"/>
<polygon points="485.10,589.10 490.30,584.70 490.30,587.00 513.50,587.00 513.50,584.70 518.70,589.10 513.50,593.50 513.50,591.20 490.30,591.20 490.30,593.50" fill="#fff" stroke="#d21a1a" stroke-width="1.1" stroke-dasharray="1.5 0.6"/>
<text x="391.4" y="614.7" font-size="10.0" fill="#000" font-weight="bold" font-style="italic" text-anchor="middle" stroke="#000" stroke-width="0.22" transform="rotate(-90 391.4 614.7)" >Peaks Distribution</text>
<text x="468.8" y="668.6" font-size="10.1" fill="#000" font-weight="bold" font-style="italic" text-anchor="middle" stroke="#000" stroke-width="0.22" >Uncertainty</text>
<text x="468" y="685.2" font-size="12.3" fill="#14256b" font-weight="bold" font-style="normal" text-anchor="middle" stroke="#14256b" stroke-width="0.32" >Threshold Result</text>
<polygon points="559.30,609.20 571.50,609.20 571.50,604.00 581.50,614.00 571.50,624.00 571.50,618.80 559.30,618.80" fill="#002060"/>
<polyline points="613.70,563.99 614.70,563.99 615.70,563.99 616.70,563.99 617.70,563.99 618.70,563.99 619.70,563.99 620.70,563.99 621.70,563.99 622.70,563.99 623.70,563.99 624.70,563.99 625.70,563.99 626.70,563.98 627.70,563.98 628.70,563.98 629.70,563.97 630.70,563.96 631.70,563.94 632.70,563.90 633.00,563.87 633.30,563.83 633.60,563.77 633.90,563.66 634.20,563.45 634.32,563.32 634.44,563.13 634.56,562.86 634.68,562.47 634.80,561.92 634.92,561.19 635.04,560.45 635.16,560.14 635.28,560.53 635.40,561.28 635.52,561.99 635.64,562.53 635.76,562.90 635.88,563.15 636.00,563.33 636.12,563.46 636.24,563.56 636.36,563.63 636.66,563.74 636.96,563.81 637.26,563.85 637.56,563.87 637.86,563.89 638.16,563.90 639.16,563.90 640.16,563.86 640.46,563.83 640.76,563.77 641.06,563.67 641.18,563.61 641.30,563.53 641.42,563.42 641.54,563.26 641.66,563.03 641.78,562.70 641.90,562.23 642.02,561.66 642.14,561.17 642.26,561.12 642.38,561.54 642.50,562.12 642.62,562.61 642.74,562.97 642.86,563.21 642.98,563.38 643.10,563.50 643.22,563.59 643.34,563.65 643.46,563.70 643.76,563.77 644.06,563.82 644.36,563.84 644.66,563.85 644.96,563.86 645.26,563.86 646.26,563.82 647.26,563.66 647.56,563.55 647.86,563.37 648.16,563.05 648.28,562.85 648.40,562.58 648.52,562.20 648.64,561.66 648.76,560.88 648.88,559.76 649.00,558.23 649.12,556.49 649.24,555.37 649.36,555.77 649.48,557.32 649.60,559.02 649.72,560.35 649.84,561.29 649.96,561.94 650.08,562.39 650.20,562.71 650.32,562.95 650.44,563.12 650.56,563.26 650.86,563.47 651.16,563.60 651.46,563.68 651.76,563.73 652.06,563.76 652.36,563.78 653.36,563.77 653.66,563.75 653.96,563.71 654.26,563.65 654.56,563.56 654.86,563.40 655.16,563.12 655.28,562.95 655.40,562.71 655.52,562.39 655.64,561.94 655.76,561.29 655.88,560.36 656.00,559.03 656.12,557.34 656.24,555.78 656.36,555.37 656.48,556.48 656.60,558.22 656.72,559.75 656.84,560.88 656.96,561.66 657.08,562.20 657.20,562.58 657.32,562.85 657.44,563.06 657.56,563.21 657.86,563.46 658.16,563.61 658.46,563.70 658.76,563.76 659.06,563.80 659.36,563.83 660.36,563.89 661.36,563.91 662.36,563.92 663.36,563.93 664.36,563.92 665.36,563.91 666.36,563.88 667.36,563.82 668.36,563.65 668.66,563.53 668.96,563.35 669.26,563.04 669.38,562.84 669.50,562.58 669.62,562.23 669.74,561.73 669.86,561.02 669.98,560.00 670.10,558.53 670.22,556.62 670.34,554.73 670.46,553.99 670.58,555.05 670.70,557.02 670.82,558.86 670.94,560.22 671.06,561.18 671.18,561.84 671.30,562.30 671.42,562.63 671.54,562.87 671.66,563.06 671.96,563.36 672.26,563.53 672.56,563.63 672.86,563.70 673.16,563.74 673.46,563.77 674.46,563.81 675.46,563.77 675.76,563.73 676.06,563.65 676.36,563.52 676.48,563.44 676.60,563.33 676.72,563.18 676.84,562.96 676.96,562.66 677.08,562.21 677.20,561.58 677.32,560.81 677.44,560.18 677.56,560.13 677.68,560.72 677.80,561.49 677.92,562.14 678.04,562.60 678.16,562.92 678.28,563.14 678.40,563.30 678.52,563.41 678.64,563.50 678.76,563.56 679.06,563.66 679.36,563.71 679.66,563.74 679.96,563.75 680.26,563.75 680.56,563.75 681.56,563.66 682.56,563.37 682.86,563.19 683.16,562.91 683.46,562.44 683.76,561.59 683.88,561.05 684.00,560.31 684.12,559.27 684.24,557.80 684.36,555.68 684.48,552.63 684.60,548.58 684.72,544.37 684.84,542.37 684.96,544.28 685.08,548.47 685.20,552.53 685.32,555.61 685.44,557.76 685.56,559.24 685.68,560.29 685.80,561.03 685.92,561.58 686.04,561.99 686.16,562.31 686.46,562.84 686.76,563.15 687.06,563.35 687.36,563.49 687.66,563.58 687.96,563.65 688.96,563.78 689.96,563.84 690.96,563.87 691.96,563.88 692.96,563.88 693.96,563.87 694.96,563.84 695.96,563.76 696.96,563.54 697.26,563.40 697.56,563.17 697.86,562.77 697.98,562.52 698.10,562.19 698.22,561.74 698.34,561.11 698.46,560.21 698.58,558.92 698.70,557.06 698.82,554.63 698.94,552.19 699.06,551.18 699.18,552.48 699.30,554.99 699.42,557.35 699.54,559.12 699.66,560.35 699.78,561.20 699.90,561.79 700.02,562.22 700.14,562.54 700.26,562.77 700.56,563.15 700.86,563.37 701.16,563.50 701.46,563.58 701.76,563.63 702.06,563.66 703.06,563.66 704.06,563.44 704.36,563.28 704.66,563.02 704.96,562.54 705.08,562.24 705.20,561.83 705.32,561.28 705.44,560.49 705.56,559.36 705.68,557.73 705.80,555.43 705.92,552.60 706.04,550.22 706.16,549.98 706.28,552.10 706.40,554.96 706.52,557.38 706.64,559.12 706.76,560.33 706.88,561.17 707.00,561.77 707.12,562.20 707.24,562.52 707.36,562.76 707.66,563.16 707.96,563.39 708.26,563.54 708.56,563.64 708.86,563.71 709.16,563.76 710.16,563.85 711.16,563.90 712.16,563.93 713.16,563.94 714.16,563.95 715.16,563.96 716.16,563.97 717.16,563.97 718.16,563.97 719.16,563.98 720.16,563.98 721.16,563.98 722.16,563.98 723.16,563.98 724.16,563.98 725.16,563.98 726.16,563.98 727.16,563.98 728.16,563.98 729.16,563.98 730.16,563.97 731.16,563.97 732.16,563.95 733.16,563.92 733.46,563.89 733.76,563.85 734.06,563.78 734.18,563.73 734.30,563.67 734.42,563.59 734.54,563.47 734.66,563.30 734.78,563.05 734.90,562.71 735.02,562.32 735.14,562.07 735.26,562.15 735.38,562.50 735.50,562.87 735.62,563.17 735.74,563.38 735.86,563.52 735.98,563.62 736.10,563.69 736.22,563.75 736.34,563.78 736.46,563.81 736.76,563.86 737.06,563.88 737.36,563.90 737.66,563.91 737.96,563.91 738.26,563.91 739.26,563.87 739.56,563.85 739.86,563.82 740.16,563.77 740.46,563.70 740.76,563.58 741.06,563.37 741.18,563.23 741.30,563.06 741.42,562.81 741.54,562.48 741.66,561.99 741.78,561.28 741.90,560.28 742.02,559.01 742.14,557.82 742.26,557.50 742.38,558.33 742.50,559.64 742.62,560.80 742.74,561.65 742.86,562.24 742.98,562.65 743.10,562.94 743.22,563.15 743.34,563.31 743.46,563.42 743.76,563.61 744.06,563.72 744.36,563.79 744.66,563.84 744.96,563.87 745.26,563.89 746.26,563.94 747.26,563.96 748.26,563.97 749.26,563.98 750.26,563.98 751.26,563.98 752.26,563.99 753.26,563.99 754.26,563.99 755.26,563.99 756.26,563.99 756.90,563.99" fill="none" stroke="#000" stroke-width="1.3" stroke-linejoin="round"/>
<rect x="613.40" y="568.80" width="144.10" height="83.90" rx="0" fill="none" stroke="#000" stroke-width="1.4" />
<rect x="633.05" y="579.10" width="4.20" height="10.40" rx="0" fill="#eaf4e2" stroke="#b9dba2" stroke-width="0.6" />
<path d="M635.15,579.70Q638.35,584.30 635.15,588.90Q631.95,584.30 635.15,579.70Z" fill="#2a2fe0"/>
<path d="M635.15,581.45Q637.07,584.30 635.15,587.15Q633.23,584.30 635.15,581.45Z" fill="#2f8fe8"/>
<path d="M633.55,574.70 l1.3,1.9 l2.6,-4.6" fill="none" stroke="#2a7a1a" stroke-width="1.25"/>
<rect x="647.17" y="579.10" width="4.20" height="10.40" rx="0" fill="#eaf4e2" stroke="#b9dba2" stroke-width="0.6" />
<path d="M649.27,579.40Q652.79,584.30 649.27,589.20Q645.75,584.30 649.27,579.40Z" fill="#2a2fe0"/>
<path d="M649.27,581.26Q651.38,584.30 649.27,587.34Q647.16,584.30 649.27,581.26Z" fill="#35c8d8"/>
<path d="M649.27,582.54Q650.54,584.30 649.27,586.06Q648.00,584.30 649.27,582.54Z" fill="#d8e04a"/>
<path d="M647.67,574.70 l1.3,1.9 l2.6,-4.6" fill="none" stroke="#2a7a1a" stroke-width="1.25"/>
<rect x="668.35" y="579.10" width="4.20" height="10.40" rx="0" fill="#eaf4e2" stroke="#b9dba2" stroke-width="0.6" />
<path d="M670.45,579.40Q673.97,584.30 670.45,589.20Q666.93,584.30 670.45,579.40Z" fill="#2a2fe0"/>
<path d="M670.45,581.26Q672.56,584.30 670.45,587.34Q668.34,584.30 670.45,581.26Z" fill="#35c8d8"/>
<path d="M670.45,582.54Q671.72,584.30 670.45,586.06Q669.18,584.30 670.45,582.54Z" fill="#d8e04a"/>
<path d="M668.85,574.70 l1.3,1.9 l2.6,-4.6" fill="none" stroke="#2a7a1a" stroke-width="1.25"/>
<rect x="696.95" y="579.10" width="4.20" height="10.40" rx="0" fill="#eaf4e2" stroke="#b9dba2" stroke-width="0.6" />
<path d="M699.05,579.30Q702.73,584.30 699.05,589.30Q695.37,584.30 699.05,579.30Z" fill="#2a2fe0"/>
<path d="M699.05,581.20Q701.26,584.30 699.05,587.40Q696.84,584.30 699.05,581.20Z" fill="#35c8d8"/>
<path d="M699.05,582.50Q700.38,584.30 699.05,586.10Q697.73,584.30 699.05,582.50Z" fill="#f4e628"/>
<path d="M697.45,574.70 l1.3,1.9 l2.6,-4.6" fill="none" stroke="#2a7a1a" stroke-width="1.25"/>
<rect x="740.13" y="579.10" width="4.20" height="10.40" rx="0" fill="#eaf4e2" stroke="#b9dba2" stroke-width="0.6" />
<path d="M742.23,579.40Q745.75,584.30 742.23,589.20Q738.71,584.30 742.23,579.40Z" fill="#2a2fe0"/>
<path d="M742.23,581.26Q744.34,584.30 742.23,587.34Q740.12,584.30 742.23,581.26Z" fill="#35c8d8"/>
<path d="M742.23,582.54Q743.50,584.30 742.23,586.06Q740.96,584.30 742.23,582.54Z" fill="#d8e04a"/>
<path d="M740.63,574.70 l1.3,1.9 l2.6,-4.6" fill="none" stroke="#2a7a1a" stroke-width="1.25"/>
<rect x="654.23" y="601.80" width="4.20" height="10.40" rx="0" fill="#eaf4e2" stroke="#b9dba2" stroke-width="0.6" />
<path d="M656.33,602.10Q659.85,607.00 656.33,611.90Q652.81,607.00 656.33,602.10Z" fill="#2a2fe0"/>
<path d="M656.33,603.96Q658.44,607.00 656.33,610.04Q654.22,607.00 656.33,603.96Z" fill="#35c8d8"/>
<path d="M656.33,605.24Q657.60,607.00 656.33,608.76Q655.06,607.00 656.33,605.24Z" fill="#d8e04a"/>
<path d="M654.73,597.40 l1.3,1.9 l2.6,-4.6" fill="none" stroke="#2a7a1a" stroke-width="1.25"/>
<rect x="682.74" y="601.80" width="4.20" height="10.40" rx="0" fill="#eaf4e2" stroke="#b9dba2" stroke-width="0.6" />
<path d="M684.84,602.00Q688.52,607.00 684.84,612.00Q681.16,607.00 684.84,602.00Z" fill="#2a2fe0"/>
<path d="M684.84,603.90Q687.05,607.00 684.84,610.10Q682.63,607.00 684.84,603.90Z" fill="#35c8d8"/>
<path d="M684.84,605.20Q686.17,607.00 684.84,608.80Q683.52,607.00 684.84,605.20Z" fill="#f4e628"/>
<path d="M683.24,597.40 l1.3,1.9 l2.6,-4.6" fill="none" stroke="#2a7a1a" stroke-width="1.25"/>
<rect x="704.01" y="601.80" width="4.20" height="10.40" rx="0" fill="#eaf4e2" stroke="#b9dba2" stroke-width="0.6" />
<path d="M706.11,602.40Q709.31,607.00 706.11,611.60Q702.91,607.00 706.11,602.40Z" fill="#2a2fe0"/>
<path d="M706.11,604.15Q708.03,607.00 706.11,609.85Q704.19,607.00 706.11,604.15Z" fill="#2f8fe8"/>
<path d="M704.51,597.40 l1.3,1.9 l2.6,-4.6" fill="none" stroke="#2a7a1a" stroke-width="1.25"/>
<rect x="640.11" y="632.30" width="4.20" height="10.40" rx="0" fill="#eaf4e2" stroke="#b9dba2" stroke-width="0.6" />
<path d="M642.21,632.90Q645.41,637.50 642.21,642.10Q639.01,637.50 642.21,632.90Z" fill="#2a2fe0"/>
<path d="M642.21,634.65Q644.13,637.50 642.21,640.35Q640.29,637.50 642.21,634.65Z" fill="#2f8fe8"/>
<path d="M640.61,627.90 l1.3,1.9 l2.6,-4.6" fill="none" stroke="#2a7a1a" stroke-width="1.25"/>
<rect x="675.41" y="632.30" width="4.20" height="10.40" rx="0" fill="#fde4e4" stroke="#f4a0a0" stroke-width="0.6" />
<path d="M677.51,632.90Q680.71,637.50 677.51,642.10Q674.31,637.50 677.51,632.90Z" fill="#2a2fe0"/>
<path d="M677.51,634.65Q679.43,637.50 677.51,640.35Q675.59,637.50 677.51,634.65Z" fill="#2f8fe8"/>
<text x="677.51" y="630.30" font-size="6.8" fill="#f04040" font-weight="bold" font-style="normal" text-anchor="middle" stroke="#f04040" stroke-width="0.22" font-family="Liberation Sans, sans-serif">?</text>
<rect x="682.74" y="632.30" width="4.20" height="10.40" rx="0" fill="#fde4e4" stroke="#f4a0a0" stroke-width="0.6" />
<path d="M684.84,632.50Q688.52,637.50 684.84,642.50Q681.16,637.50 684.84,632.50Z" fill="#2a2fe0"/>
<path d="M684.84,634.40Q687.05,637.50 684.84,640.60Q682.63,637.50 684.84,634.40Z" fill="#35c8d8"/>
<path d="M684.84,635.70Q686.17,637.50 684.84,639.30Q683.52,637.50 684.84,635.70Z" fill="#f4e628"/>
<text x="684.84" y="630.30" font-size="6.8" fill="#f04040" font-weight="bold" font-style="normal" text-anchor="middle" stroke="#f04040" stroke-width="0.22" font-family="Liberation Sans, sans-serif">?</text>
<rect x="704.01" y="632.30" width="4.20" height="10.40" rx="0" fill="#fde4e4" stroke="#f4a0a0" stroke-width="0.6" />
<path d="M706.11,632.50Q709.79,637.50 706.11,642.50Q702.43,637.50 706.11,632.50Z" fill="#2a2fe0"/>
<path d="M706.11,634.40Q708.32,637.50 706.11,640.60Q703.90,637.50 706.11,634.40Z" fill="#35c8d8"/>
<path d="M706.11,635.70Q707.44,637.50 706.11,639.30Q704.79,637.50 706.11,635.70Z" fill="#f4e628"/>
<text x="706.11" y="630.30" font-size="6.8" fill="#f04040" font-weight="bold" font-style="normal" text-anchor="middle" stroke="#f04040" stroke-width="0.22" font-family="Liberation Sans, sans-serif">?</text>
<rect x="733.07" y="632.30" width="4.20" height="10.40" rx="0" fill="#eaf4e2" stroke="#b9dba2" stroke-width="0.6" />
<path d="M735.17,633.70Q737.57,637.50 735.17,641.30Q732.77,637.50 735.17,633.70Z" fill="#2a2fe0"/>
<path d="M733.57,627.90 l1.3,1.9 l2.6,-4.6" fill="none" stroke="#2a7a1a" stroke-width="1.25"/>
<text x="606.5" y="610.8" font-size="9.85" fill="#000" font-weight="bold" font-style="italic" text-anchor="middle" stroke="#000" stroke-width="0.22" transform="rotate(-90 606.5 610.8)" >Diffusion Coefficient</text>
<text x="690.6" y="665.4" font-size="10.1" fill="#000" font-weight="bold" font-style="italic" text-anchor="middle" stroke="#000" stroke-width="0.22" >Chemical Shift</text>
<text x="685.6" y="683.9" font-size="12.3" fill="#14256b" font-weight="bold" font-style="normal" text-anchor="middle" stroke="#14256b" stroke-width="0.32" >Final Result with Uncertainty Marking</text>
</svg>
</body></html>
